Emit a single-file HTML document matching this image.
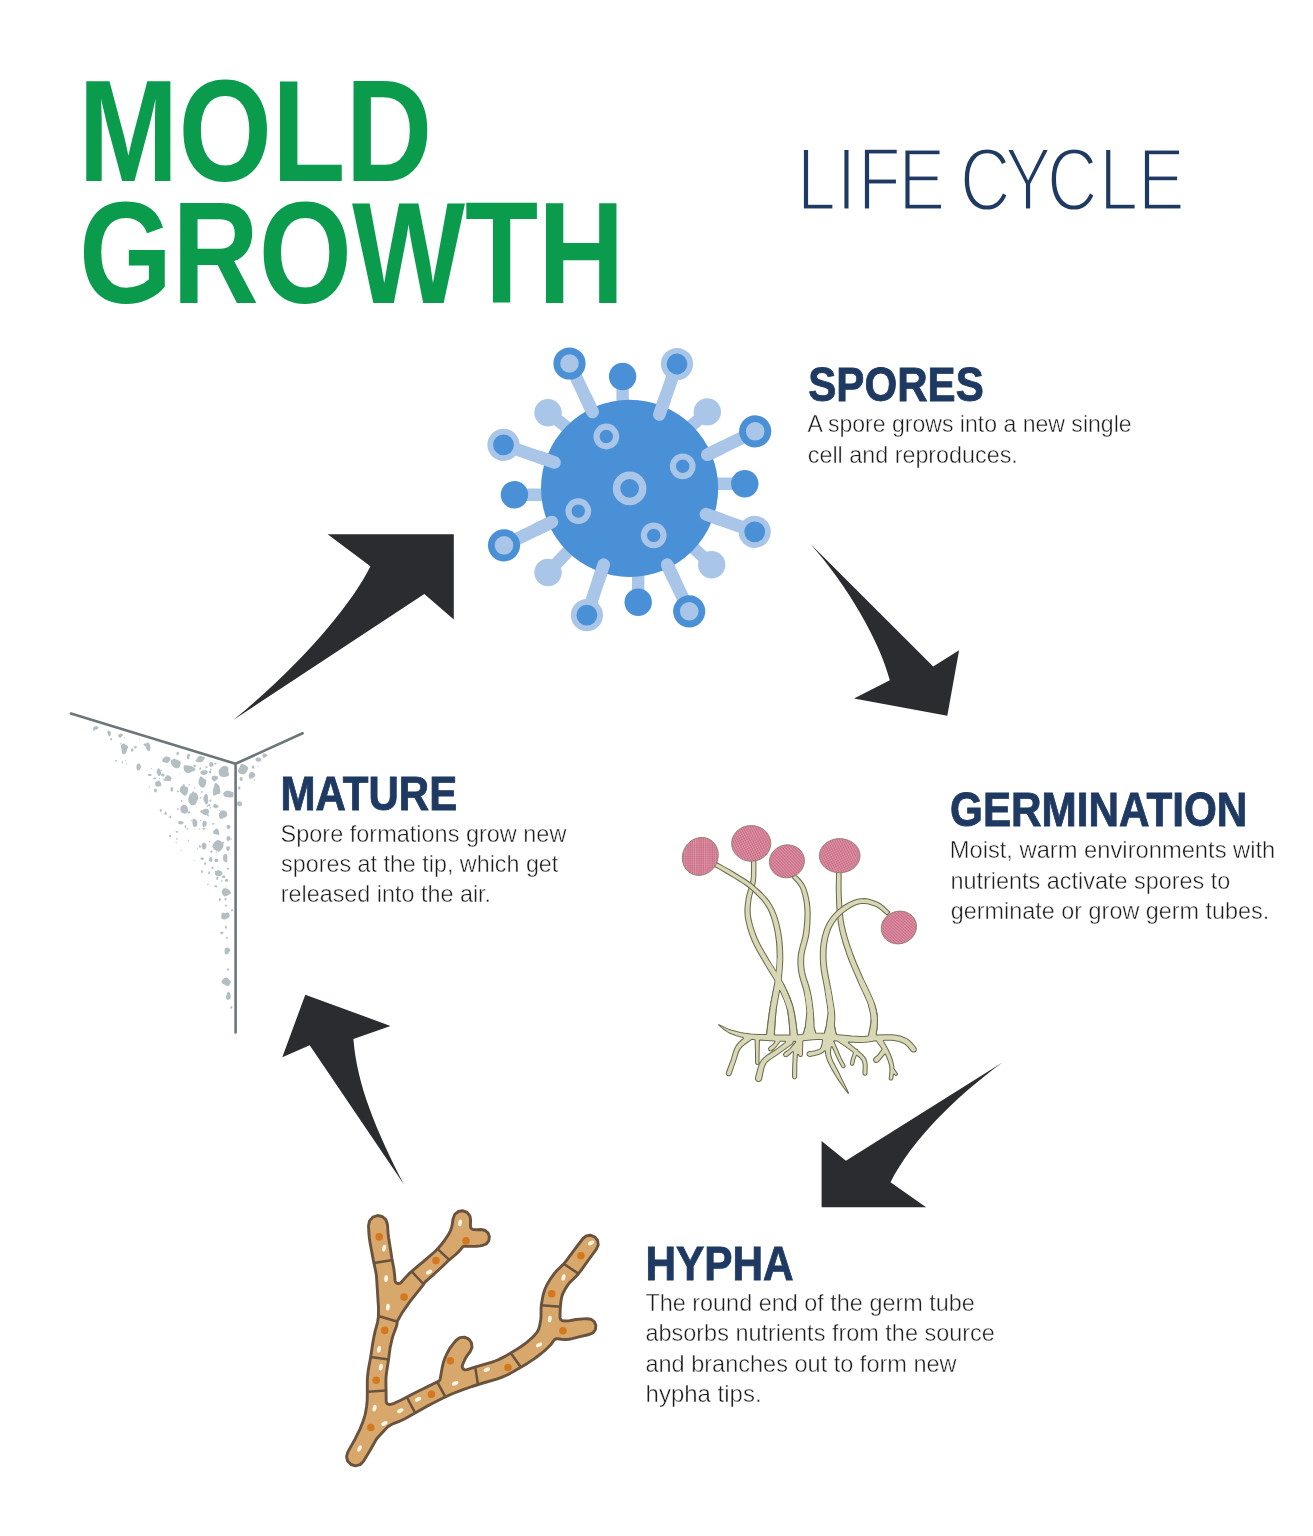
<!DOCTYPE html>
<html lang="en">
<head>
<meta charset="utf-8">
<title>Mold Growth Life Cycle</title>
<style>
html,body{margin:0;padding:0;background:#fff;}
body{width:1313px;height:1536px;overflow:hidden;}
svg{display:block;will-change:transform;}
svg text{font-family:"Liberation Sans",sans-serif;}
</style>
</head>
<body>
<svg width="1313" height="1536" viewBox="0 0 1313 1536">
<rect width="1313" height="1536" fill="#ffffff"/>
<g id="labels">
<text x="78.3" y="180.7" font-size="145" font-weight="bold" fill="#0a9b4c" textLength="354.0" lengthAdjust="spacingAndGlyphs">MOLD</text>
<text x="79.1" y="302.9" font-size="145" font-weight="bold" fill="#0a9b4c" textLength="545.5" lengthAdjust="spacingAndGlyphs">GROWTH</text>
<text transform="scale(0.79,1)" x="1009.0 1059.1 1086.0 1137.5 1176.4 1215.2 1271.9 1325.4 1391.6 1440.4" y="210.2" font-size="88.5" fill="#1f3a62" stroke="#fff" stroke-width="2.6" vector-effect="non-scaling-stroke">LIFE CYCLE</text>
<text x="808.3" y="400.95" font-size="49.0" font-weight="bold" fill="#1f3a62" textLength="175.4" lengthAdjust="spacingAndGlyphs" stroke="#1f3a62" stroke-width="0.9" stroke-linejoin="miter">SPORES</text>
<text x="950.1" y="826.35" font-size="49.0" font-weight="bold" fill="#1f3a62" textLength="297.2" lengthAdjust="spacingAndGlyphs" stroke="#1f3a62" stroke-width="0.9" stroke-linejoin="miter">GERMINATION</text>
<text x="645.4" y="1279.55" font-size="49.0" font-weight="bold" fill="#1f3a62" textLength="148.3" lengthAdjust="spacingAndGlyphs" stroke="#1f3a62" stroke-width="0.9" stroke-linejoin="miter">HYPHA</text>
<text x="280.6" y="810.45" font-size="49.0" font-weight="bold" fill="#1f3a62" textLength="176.6" lengthAdjust="spacingAndGlyphs" stroke="#1f3a62" stroke-width="0.9" stroke-linejoin="miter">MATURE</text>
<text x="807.4" y="432.2" font-size="23.6" font-weight="normal" fill="#1b1b1b" textLength="324.2" lengthAdjust="spacingAndGlyphs" stroke="#fff" stroke-width="0.45">A spore grows into a new single</text>
<text x="807.8" y="462.8" font-size="23.6" font-weight="normal" fill="#1b1b1b" textLength="210.0" lengthAdjust="spacingAndGlyphs" stroke="#fff" stroke-width="0.45">cell and reproduces.</text>
<text x="949.7" y="858.0" font-size="23.6" font-weight="normal" fill="#1b1b1b" textLength="325.6" lengthAdjust="spacingAndGlyphs" stroke="#fff" stroke-width="0.45">Moist, warm environments with</text>
<text x="950.4" y="888.6" font-size="23.6" font-weight="normal" fill="#1b1b1b" textLength="280.0" lengthAdjust="spacingAndGlyphs" stroke="#fff" stroke-width="0.45">nutrients activate spores to</text>
<text x="950.8" y="918.8" font-size="23.6" font-weight="normal" fill="#1b1b1b" textLength="318.5" lengthAdjust="spacingAndGlyphs" stroke="#fff" stroke-width="0.45">germinate or grow germ tubes.</text>
<text x="645.4" y="1310.5" font-size="23.6" font-weight="normal" fill="#1b1b1b" textLength="329.5" lengthAdjust="spacingAndGlyphs" stroke="#fff" stroke-width="0.45">The round end of the germ tube</text>
<text x="645.4" y="1341.2" font-size="23.6" font-weight="normal" fill="#1b1b1b" textLength="349.5" lengthAdjust="spacingAndGlyphs" stroke="#fff" stroke-width="0.45">absorbs nutrients from the source</text>
<text x="645.4" y="1371.8" font-size="23.6" font-weight="normal" fill="#1b1b1b" textLength="311.2" lengthAdjust="spacingAndGlyphs" stroke="#fff" stroke-width="0.45">and branches out to form new</text>
<text x="645.6" y="1402.3" font-size="23.6" font-weight="normal" fill="#1b1b1b" textLength="116.0" lengthAdjust="spacingAndGlyphs" stroke="#fff" stroke-width="0.45">hypha tips.</text>
<text x="280.6" y="842.0" font-size="23.6" font-weight="normal" fill="#1b1b1b" textLength="285.8" lengthAdjust="spacingAndGlyphs" stroke="#fff" stroke-width="0.45">Spore formations grow new</text>
<text x="281.1" y="872.2" font-size="23.6" font-weight="normal" fill="#1b1b1b" textLength="277.2" lengthAdjust="spacingAndGlyphs" stroke="#fff" stroke-width="0.45">spores at the tip, which get</text>
<text x="280.7" y="902.4" font-size="23.6" font-weight="normal" fill="#1b1b1b" textLength="210.4" lengthAdjust="spacingAndGlyphs" stroke="#fff" stroke-width="0.45">released into the air.</text>
</g>
<g id="spore">
<line x1="622.6" y1="376.5" x2="622.6" y2="405.5" stroke="#a9c5e8" stroke-width="12.4"/>
<line x1="707.3" y1="411.9" x2="687.9" y2="428.8" stroke="#a9c5e8" stroke-width="12.4"/>
<line x1="744.8" y1="483.7" x2="708.6" y2="483.7" stroke="#a9c5e8" stroke-width="12.4"/>
<line x1="711.7" y1="564.7" x2="690.5" y2="545.3" stroke="#a9c5e8" stroke-width="12.4"/>
<line x1="638.2" y1="602.3" x2="638.2" y2="568.6" stroke="#a9c5e8" stroke-width="12.4"/>
<line x1="548.0" y1="572.5" x2="568.8" y2="550.5" stroke="#a9c5e8" stroke-width="12.4"/>
<line x1="514.4" y1="494.8" x2="548.0" y2="494.8" stroke="#a9c5e8" stroke-width="12.4"/>
<line x1="548.0" y1="412.7" x2="568.8" y2="428.8" stroke="#a9c5e8" stroke-width="12.4"/>
<line x1="569.5" y1="363.5" x2="592.6" y2="411.9" stroke="#a9c5e8" stroke-width="12.7" stroke-linecap="round"/>
<line x1="677.0" y1="364.0" x2="659.4" y2="414.5" stroke="#a9c5e8" stroke-width="12.7" stroke-linecap="round"/>
<line x1="755.2" y1="431.3" x2="707.3" y2="454.7" stroke="#a9c5e8" stroke-width="12.7" stroke-linecap="round"/>
<line x1="754.7" y1="531.8" x2="706.0" y2="514.2" stroke="#a9c5e8" stroke-width="12.7" stroke-linecap="round"/>
<line x1="689.2" y1="611.3" x2="667.2" y2="564.7" stroke="#a9c5e8" stroke-width="12.7" stroke-linecap="round"/>
<line x1="586.9" y1="615.2" x2="603.7" y2="564.7" stroke="#a9c5e8" stroke-width="12.7" stroke-linecap="round"/>
<line x1="504.0" y1="545.3" x2="551.9" y2="522.0" stroke="#a9c5e8" stroke-width="12.7" stroke-linecap="round"/>
<line x1="503.5" y1="444.8" x2="554.5" y2="462.4" stroke="#a9c5e8" stroke-width="12.7" stroke-linecap="round"/>
<circle cx="629.6" cy="488.3" r="88.6" fill="#4a90d6"/>
<line x1="585.7" y1="397.4" x2="592.6" y2="411.9" stroke="#a9c5e8" stroke-width="12.7" stroke-linecap="round"/>
<line x1="664.7" y1="399.4" x2="659.4" y2="414.5" stroke="#a9c5e8" stroke-width="12.7" stroke-linecap="round"/>
<line x1="721.7" y1="447.7" x2="707.3" y2="454.7" stroke="#a9c5e8" stroke-width="12.7" stroke-linecap="round"/>
<line x1="720.6" y1="519.5" x2="706.0" y2="514.2" stroke="#a9c5e8" stroke-width="12.7" stroke-linecap="round"/>
<line x1="673.8" y1="578.7" x2="667.2" y2="564.7" stroke="#a9c5e8" stroke-width="12.7" stroke-linecap="round"/>
<line x1="598.7" y1="579.9" x2="603.7" y2="564.7" stroke="#a9c5e8" stroke-width="12.7" stroke-linecap="round"/>
<line x1="537.6" y1="529.0" x2="551.9" y2="522.0" stroke="#a9c5e8" stroke-width="12.7" stroke-linecap="round"/>
<line x1="539.2" y1="457.1" x2="554.5" y2="462.4" stroke="#a9c5e8" stroke-width="12.7" stroke-linecap="round"/>
<circle cx="622.6" cy="376.5" r="13.7" fill="#4a90d6"/>
<circle cx="707.3" cy="411.9" r="13.7" fill="#a9c5e8"/>
<circle cx="744.8" cy="483.7" r="13.7" fill="#4a90d6"/>
<circle cx="711.7" cy="564.7" r="13.7" fill="#a9c5e8"/>
<circle cx="638.2" cy="602.3" r="13.7" fill="#4a90d6"/>
<circle cx="548.0" cy="572.5" r="13.7" fill="#a9c5e8"/>
<circle cx="514.4" cy="494.8" r="13.7" fill="#4a90d6"/>
<circle cx="548.0" cy="412.7" r="13.7" fill="#a9c5e8"/>
<circle cx="569.5" cy="363.5" r="16.1" fill="#4a90d6"/>
<circle cx="569.5" cy="363.5" r="9.3" fill="#a9c5e8"/>
<circle cx="677.0" cy="364.0" r="16.1" fill="#a9c5e8"/>
<circle cx="677.0" cy="364.0" r="10.4" fill="#4a90d6"/>
<circle cx="755.2" cy="431.3" r="16.1" fill="#4a90d6"/>
<circle cx="755.2" cy="431.3" r="9.3" fill="#a9c5e8"/>
<circle cx="754.7" cy="531.8" r="16.1" fill="#a9c5e8"/>
<circle cx="754.7" cy="531.8" r="10.4" fill="#4a90d6"/>
<circle cx="689.2" cy="611.3" r="16.1" fill="#4a90d6"/>
<circle cx="689.2" cy="611.3" r="9.3" fill="#a9c5e8"/>
<circle cx="586.9" cy="615.2" r="16.1" fill="#a9c5e8"/>
<circle cx="586.9" cy="615.2" r="10.4" fill="#4a90d6"/>
<circle cx="504.0" cy="545.3" r="16.1" fill="#4a90d6"/>
<circle cx="504.0" cy="545.3" r="9.3" fill="#a9c5e8"/>
<circle cx="503.5" cy="444.8" r="16.1" fill="#a9c5e8"/>
<circle cx="503.5" cy="444.8" r="10.4" fill="#4a90d6"/>
<circle cx="606.3" cy="436.5" r="9.8" fill="none" stroke="#a9c5e8" stroke-width="6.2"/>
<circle cx="682.7" cy="466.3" r="9.8" fill="none" stroke="#a9c5e8" stroke-width="6.2"/>
<circle cx="629.6" cy="488.3" r="13.1" fill="none" stroke="#a9c5e8" stroke-width="7.5"/>
<circle cx="578.3" cy="511.1" r="9.8" fill="none" stroke="#a9c5e8" stroke-width="6.2"/>
<circle cx="653.7" cy="535.4" r="9.8" fill="none" stroke="#a9c5e8" stroke-width="6.2"/>
</g>
<path d="M809.8 543.2 L933.2 666.5 L959.1 650.2 L947.3 715.7 L854.0 698.5 L889.8 680.2 C880.0 642.0 848.0 586.0 809.8 543.2Z" fill="#2b2c30"/>
<path d="M233.3 719.9 L424.3 593.9 L453.8 619.4 L453.8 534.3 L327.6 534.3 L370.4 566.3 C352.0 604.0 302.0 664.0 233.3 719.9Z" fill="#2b2c30"/>
<path d="M1002.8 1062.2 L845.9 1160.8 L821.6 1141.0 L821.6 1207.3 L926.1 1207.3 L890.5 1182.2 C912.0 1140.0 955.0 1097.0 1002.8 1062.2Z" fill="#2b2c30"/>
<path d="M403.8 1184.2 L309.7 1045.2 L282.3 1057.2 L305.3 994.7 L390.5 1025.9 L353.4 1038.9 C357.0 1085.0 376.0 1130.0 403.8 1184.2Z" fill="#2b2c30"/>
<g id="mature">
<path d="M122.5 753.9C121.9 753.3 121.8 751.2 121.6 749.9C121.3 748.5 120.6 747.0 120.9 746.0C121.2 744.9 122.4 743.8 123.2 743.6C124.0 743.4 124.9 744.2 125.7 744.7C126.4 745.2 127.8 745.8 128.0 746.7C128.2 747.7 127.3 749.2 126.9 750.4C126.5 751.5 126.3 753.0 125.5 753.6C124.8 754.2 123.2 754.6 122.5 753.9ZM150.3 748.7C150.1 749.7 149.6 751.3 149.1 751.5C148.6 751.7 147.8 750.5 147.3 750.0C146.8 749.4 146.4 749.0 146.1 748.3C145.9 747.5 145.5 746.3 145.7 745.3C145.9 744.4 146.5 742.8 147.1 742.5C147.7 742.2 148.7 742.8 149.2 743.4C149.8 744.0 150.2 745.0 150.3 745.9C150.5 746.8 150.5 747.8 150.3 748.7ZM140.9 766.7C140.9 767.8 140.0 769.4 139.5 770.0C138.9 770.5 138.1 770.5 137.5 770.2C137.0 769.8 136.5 768.7 136.4 767.8C136.3 766.9 136.5 765.4 136.9 764.7C137.4 763.9 138.5 762.9 139.2 763.2C139.8 763.5 140.9 765.5 140.9 766.7ZM167.7 762.9C166.9 763.3 165.6 762.9 164.7 762.6C163.8 762.3 162.5 761.7 162.3 761.0C162.0 760.3 162.7 759.1 163.1 758.5C163.5 757.8 164.0 757.2 164.7 756.9C165.3 756.6 166.2 756.4 167.1 756.5C167.9 756.7 169.5 757.0 169.9 757.7C170.3 758.4 169.8 759.7 169.5 760.6C169.1 761.5 168.5 762.6 167.7 762.9ZM174.0 767.3C173.0 766.8 172.4 765.8 171.9 764.8C171.3 763.8 170.4 762.4 170.7 761.4C171.0 760.3 172.7 759.1 173.9 758.8C175.0 758.6 176.4 759.4 177.5 759.9C178.6 760.3 180.0 760.8 180.5 761.6C181.0 762.5 180.7 764.0 180.3 765.1C179.9 766.2 179.1 767.9 178.0 768.3C176.9 768.7 175.0 767.9 174.0 767.3ZM158.6 768.2C159.3 768.1 160.2 769.8 160.7 770.7C161.1 771.6 161.5 772.6 161.3 773.5C161.1 774.4 160.1 775.9 159.4 776.0C158.7 776.1 157.8 774.7 157.3 773.9C156.8 773.1 156.4 772.0 156.6 771.0C156.8 770.1 157.9 768.2 158.6 768.2ZM171.5 779.0C171.2 779.8 169.9 780.7 168.8 780.9C167.8 781.2 165.9 781.1 165.3 780.6C164.6 780.0 164.9 778.5 165.1 777.6C165.4 776.8 166.1 775.6 167.0 775.3C167.8 775.1 169.5 775.6 170.3 776.2C171.0 776.8 171.7 778.2 171.5 779.0ZM155.4 782.4C155.9 781.5 157.4 780.4 158.3 780.4C159.2 780.5 160.4 781.7 160.8 782.6C161.3 783.5 161.6 785.1 161.2 785.7C160.8 786.4 159.4 786.4 158.5 786.4C157.6 786.5 156.2 786.6 155.7 785.9C155.2 785.2 155.0 783.4 155.4 782.4ZM184.3 765.5C185.2 765.0 188.0 765.5 189.5 765.8C191.0 766.0 192.4 766.3 193.4 767.0C194.4 767.7 195.8 769.1 195.5 769.9C195.2 770.7 192.8 771.1 191.5 771.7C190.2 772.3 189.0 773.3 187.9 773.2C186.7 773.2 185.3 772.0 184.6 771.3C183.9 770.6 183.8 769.8 183.8 768.9C183.7 767.9 183.3 766.0 184.3 765.5ZM203.4 760.4C202.9 761.1 202.5 761.7 201.7 762.0C200.9 762.4 199.8 762.5 198.7 762.3C197.7 762.2 195.8 761.7 195.5 761.0C195.2 760.4 196.6 759.2 197.1 758.5C197.6 757.7 197.7 756.8 198.5 756.4C199.3 756.1 200.7 756.0 201.8 756.2C202.9 756.4 204.7 757.1 204.9 757.8C205.2 758.5 203.9 759.7 203.4 760.4ZM205.8 770.3C206.7 770.5 207.8 771.4 207.9 772.1C207.9 772.7 207.2 773.7 206.4 774.2C205.6 774.6 203.8 775.3 202.8 775.0C201.8 774.7 200.2 773.3 200.2 772.6C200.3 771.8 202.0 771.0 202.9 770.6C203.9 770.2 205.0 770.1 205.8 770.3ZM212.3 766.6C211.8 767.0 210.8 767.2 210.3 766.8C209.8 766.4 209.1 765.0 209.2 764.2C209.3 763.4 210.1 762.4 210.6 762.1C211.2 761.8 211.9 762.2 212.4 762.6C212.9 763.0 213.6 763.9 213.6 764.5C213.6 765.2 212.9 766.2 212.3 766.6ZM219.9 775.7C219.0 774.8 218.5 772.8 218.6 771.5C218.7 770.2 219.6 768.8 220.5 767.9C221.4 767.0 222.9 766.2 224.2 766.1C225.4 766.0 227.5 766.5 228.2 767.4C228.9 768.2 228.2 769.8 228.3 771.2C228.4 772.5 229.6 774.4 229.0 775.3C228.4 776.3 226.1 776.8 224.6 776.9C223.1 777.0 220.9 776.6 219.9 775.7ZM217.0 776.3C217.6 776.7 218.2 777.6 218.1 778.2C218.0 778.8 217.2 779.3 216.6 779.8C216.0 780.4 215.2 781.4 214.5 781.4C213.8 781.3 212.9 780.3 212.4 779.8C211.9 779.3 211.5 778.8 211.5 778.2C211.5 777.7 211.7 776.9 212.1 776.5C212.6 776.1 213.6 775.9 214.4 775.8C215.3 775.8 216.4 775.9 217.0 776.3ZM200.1 786.2C199.4 785.5 198.7 784.4 198.5 783.3C198.3 782.2 198.6 780.6 199.0 779.4C199.4 778.3 200.1 776.5 200.8 776.3C201.5 776.1 202.2 777.4 203.1 778.1C204.0 778.8 205.8 779.2 206.2 780.5C206.5 781.8 205.7 784.7 205.1 785.9C204.4 787.0 203.1 787.3 202.3 787.3C201.4 787.4 200.7 786.8 200.1 786.2ZM184.7 795.7C183.9 795.7 183.2 794.7 182.3 793.9C181.5 793.1 179.9 792.2 179.7 791.0C179.5 789.8 180.1 787.4 181.0 786.5C181.8 785.7 183.7 786.0 184.8 786.2C185.9 786.4 187.2 786.8 187.8 787.6C188.3 788.5 188.2 790.1 188.1 791.1C187.9 792.2 187.6 793.1 187.1 793.9C186.5 794.7 185.5 795.7 184.7 795.7ZM213.6 795.7C212.9 795.2 212.9 792.4 212.9 791.0C212.9 789.7 213.3 789.1 213.7 787.8C214.1 786.5 214.4 783.6 215.3 783.1C216.2 782.7 218.1 784.3 218.9 785.3C219.7 786.3 219.7 787.8 220.0 789.2C220.2 790.5 220.7 792.5 220.2 793.3C219.8 794.2 218.2 793.9 217.1 794.3C216.0 794.7 214.3 796.3 213.6 795.7ZM223.2 793.3C223.5 792.5 224.9 791.4 226.0 791.0C227.2 790.6 228.9 790.9 230.1 791.2C231.3 791.4 232.7 791.7 233.3 792.3C233.8 792.8 233.6 793.7 233.5 794.5C233.4 795.4 233.6 796.8 232.7 797.2C231.9 797.7 229.8 797.6 228.4 797.5C227.0 797.3 225.3 797.0 224.4 796.3C223.5 795.6 222.9 794.2 223.2 793.3ZM191.2 805.0C190.1 804.4 188.8 802.6 188.4 801.1C188.1 799.5 188.5 797.1 189.1 795.7C189.8 794.2 191.1 792.9 192.2 792.5C193.4 792.0 195.1 792.2 196.1 793.0C197.1 793.8 198.2 795.8 198.4 797.2C198.5 798.6 197.5 800.1 196.9 801.4C196.3 802.7 195.8 804.1 194.9 804.7C193.9 805.3 192.3 805.6 191.2 805.0ZM204.4 801.6C203.9 800.7 203.4 800.3 203.3 799.5C203.2 798.7 203.5 797.5 203.8 796.7C204.1 795.8 204.6 794.5 205.2 794.2C205.8 793.9 207.0 794.0 207.5 794.7C208.0 795.4 207.9 797.2 208.0 798.5C208.1 799.8 208.4 801.3 208.0 802.4C207.7 803.4 206.6 804.6 205.9 804.5C205.3 804.4 204.8 802.4 204.4 801.6ZM187.9 808.8C188.1 809.8 188.1 811.0 187.7 811.8C187.3 812.5 186.4 813.3 185.7 813.5C184.9 813.8 184.0 813.6 183.2 813.2C182.3 812.8 181.2 812.2 180.7 811.2C180.3 810.2 180.1 808.3 180.6 807.3C181.0 806.2 182.5 805.0 183.5 804.8C184.5 804.6 185.9 805.3 186.6 806.0C187.4 806.7 187.8 807.9 187.9 808.8ZM202.8 810.0C203.7 809.6 204.4 808.8 205.3 808.8C206.2 808.7 207.8 809.2 208.4 809.8C209.0 810.5 209.2 811.7 208.9 812.5C208.7 813.3 207.9 814.2 207.1 814.6C206.2 815.0 204.7 814.9 203.9 814.7C203.0 814.5 202.6 813.8 201.9 813.3C201.3 812.7 200.0 811.8 200.2 811.3C200.3 810.8 202.0 810.4 202.8 810.0ZM220.4 818.8C219.5 818.5 219.1 816.7 219.0 815.8C218.8 814.8 218.9 814.0 219.4 813.1C219.9 812.3 220.7 810.8 221.8 810.5C222.9 810.2 225.1 810.7 226.1 811.3C227.0 811.9 227.1 813.2 227.2 814.1C227.3 814.9 227.2 815.7 226.7 816.3C226.3 816.9 225.5 817.3 224.4 817.7C223.3 818.1 221.3 819.2 220.4 818.8ZM217.1 805.1C217.5 805.6 218.2 806.4 218.0 806.9C217.8 807.4 216.5 808.2 215.7 808.2C214.9 808.3 213.6 807.6 213.3 807.1C212.9 806.5 213.1 805.7 213.4 805.2C213.8 804.7 214.7 804.1 215.3 804.1C215.9 804.1 216.6 804.6 217.1 805.1ZM196.6 826.3C196.0 827.2 194.6 827.2 193.9 826.8C193.3 826.3 192.6 824.9 192.5 823.6C192.3 822.4 192.3 820.0 192.8 819.3C193.3 818.5 194.5 818.8 195.3 819.2C196.0 819.6 197.0 820.5 197.3 821.7C197.5 822.9 197.1 825.5 196.6 826.3ZM205.6 821.1C206.1 821.6 206.8 822.8 206.8 823.6C206.8 824.5 206.3 825.7 205.7 826.3C205.1 826.8 203.9 827.3 203.3 827.0C202.8 826.6 202.4 824.9 202.4 823.9C202.4 822.9 202.7 821.5 203.3 821.0C203.8 820.5 205.0 820.7 205.6 821.1ZM182.4 823.9C181.7 824.3 180.8 824.5 180.1 824.4C179.4 824.3 178.4 823.7 178.2 823.2C178.0 822.6 178.1 821.5 178.7 821.2C179.2 820.9 180.7 821.0 181.5 821.2C182.4 821.4 183.7 821.8 183.8 822.3C184.0 822.8 183.0 823.6 182.4 823.9ZM213.0 831.6C213.1 831.0 214.1 830.5 214.7 829.9C215.3 829.4 215.8 828.5 216.5 828.5C217.1 828.5 218.0 829.2 218.5 829.8C218.9 830.3 218.8 830.9 218.9 831.7C219.1 832.5 219.6 834.0 219.2 834.4C218.8 834.9 217.3 834.5 216.4 834.4C215.5 834.3 214.6 834.4 214.0 834.0C213.5 833.5 212.9 832.3 213.0 831.6ZM228.0 824.9C228.6 824.8 229.6 825.0 230.0 825.4C230.4 825.9 230.6 826.9 230.4 827.5C230.2 828.1 229.3 829.0 228.7 829.1C228.1 829.1 227.4 828.3 227.0 827.7C226.6 827.2 226.1 826.4 226.2 826.0C226.4 825.5 227.4 825.0 228.0 824.9ZM228.3 841.3C227.8 841.3 227.0 840.5 226.7 839.8C226.4 839.2 226.4 838.1 226.6 837.4C226.9 836.8 227.7 836.0 228.3 835.9C228.9 835.9 230.0 836.5 230.3 837.1C230.5 837.8 230.2 839.0 229.9 839.7C229.6 840.4 228.9 841.3 228.3 841.3ZM214.5 842.3C215.5 841.3 216.8 840.1 218.0 840.0C219.2 839.9 220.7 841.0 221.6 841.8C222.5 842.7 223.4 844.0 223.5 845.1C223.6 846.3 223.0 847.7 222.2 848.8C221.4 849.9 220.1 851.6 218.9 851.7C217.7 851.9 215.9 850.7 214.8 849.8C213.7 848.8 212.4 847.3 212.4 846.0C212.3 844.8 213.6 843.3 214.5 842.3ZM206.1 844.3C206.4 845.3 206.5 847.3 206.0 848.2C205.6 849.0 203.8 849.7 203.1 849.4C202.3 849.2 201.8 847.4 201.6 846.5C201.4 845.6 201.6 844.6 202.0 843.9C202.4 843.2 203.3 842.3 204.0 842.4C204.6 842.4 205.7 843.4 206.1 844.3ZM229.6 849.3C229.3 850.0 229.0 851.0 228.5 851.1C227.9 851.3 226.9 850.7 226.6 850.1C226.2 849.4 226.1 847.8 226.3 847.2C226.6 846.6 227.6 846.6 228.2 846.6C228.8 846.5 229.8 846.6 230.0 847.0C230.2 847.5 229.8 848.6 229.6 849.3ZM223.8 854.8C224.4 854.1 226.2 853.9 226.8 854.4C227.4 855.0 227.4 857.0 227.4 858.3C227.4 859.6 227.5 861.7 227.0 862.2C226.4 862.7 225.0 862.0 224.3 861.4C223.6 860.8 223.0 859.7 223.0 858.6C222.9 857.5 223.2 855.5 223.8 854.8ZM218.4 860.3C218.5 860.8 218.3 861.6 217.7 861.8C217.2 862.1 215.9 862.2 215.3 862.0C214.8 861.8 214.2 861.0 214.2 860.5C214.2 860.0 214.8 859.4 215.3 859.1C215.8 858.9 216.9 858.7 217.4 858.9C217.9 859.1 218.4 859.8 218.4 860.3ZM218.1 869.9C218.6 869.8 219.6 870.5 219.8 871.2C220.1 871.9 219.9 873.3 219.7 874.1C219.6 874.9 219.2 876.0 218.7 876.2C218.2 876.5 217.2 876.2 216.9 875.5C216.5 874.9 216.4 873.1 216.6 872.1C216.8 871.2 217.5 870.1 218.1 869.9ZM230.8 892.3C230.6 893.0 229.2 894.1 228.3 894.2C227.3 894.4 225.9 893.4 225.0 893.0C224.2 892.7 223.2 892.4 223.0 892.0C222.7 891.5 223.2 890.9 223.5 890.3C223.7 889.7 223.8 888.4 224.5 888.2C225.3 888.0 227.0 888.6 227.8 888.9C228.6 889.3 228.9 889.7 229.4 890.3C229.9 890.9 231.0 891.7 230.8 892.3ZM93.0 728.7C92.7 728.2 93.3 727.3 93.8 726.9C94.2 726.5 94.9 726.3 95.7 726.3C96.5 726.3 98.0 726.3 98.4 726.7C98.7 727.1 98.3 728.2 97.9 728.7C97.4 729.2 96.4 729.7 95.5 729.7C94.7 729.7 93.3 729.1 93.0 728.7ZM110.6 735.2C110.3 735.9 109.5 736.4 109.0 736.2C108.6 736.1 108.3 735.4 108.0 734.6C107.7 733.9 107.2 732.5 107.4 731.9C107.6 731.2 108.6 730.7 109.2 730.8C109.7 730.8 110.5 731.5 110.8 732.2C111.0 732.9 110.9 734.6 110.6 735.2ZM122.0 736.3C121.6 736.9 121.0 737.7 120.4 737.8C119.8 737.8 118.6 737.0 118.3 736.5C118.0 736.0 118.1 735.3 118.4 734.8C118.8 734.4 119.6 733.9 120.4 733.8C121.2 733.8 122.8 734.1 123.0 734.6C123.3 735.0 122.5 735.8 122.0 736.3ZM171.7 791.7C171.3 791.6 170.7 790.6 170.5 790.0C170.4 789.4 170.5 788.4 170.8 787.9C171.0 787.4 171.7 786.9 172.0 787.0C172.4 787.1 172.9 787.8 173.1 788.3C173.2 788.9 173.3 789.8 173.0 790.4C172.8 791.0 172.1 791.8 171.7 791.7ZM177.2 755.4C176.8 755.3 176.5 754.3 176.5 753.7C176.4 753.1 176.6 752.3 176.9 752.0C177.2 751.7 177.9 751.8 178.3 752.0C178.7 752.3 179.2 752.8 179.2 753.2C179.2 753.7 178.8 754.2 178.5 754.6C178.2 754.9 177.5 755.6 177.2 755.4ZM188.3 759.6C187.9 759.6 187.1 758.6 186.9 757.9C186.7 757.1 186.9 756.0 187.2 755.3C187.4 754.6 187.8 753.8 188.3 753.7C188.8 753.6 189.8 754.1 190.0 754.7C190.2 755.4 189.7 756.7 189.4 757.5C189.1 758.3 188.7 759.5 188.3 759.6ZM245.0 765.0C246.2 765.5 247.8 766.3 248.1 767.4C248.4 768.4 247.6 770.1 247.0 771.2C246.4 772.3 245.7 773.3 244.7 773.8C243.7 774.3 242.2 774.5 241.1 774.1C240.0 773.7 238.2 772.5 237.9 771.4C237.6 770.3 238.9 768.7 239.5 767.5C240.0 766.2 240.4 764.4 241.4 764.0C242.3 763.6 243.9 764.4 245.0 765.0ZM251.1 772.0C251.8 771.8 253.2 772.0 253.9 772.4C254.6 772.8 254.9 773.8 255.0 774.5C255.2 775.2 255.2 776.1 254.9 776.6C254.5 777.2 253.8 777.5 252.9 777.9C252.1 778.2 250.5 779.0 249.8 778.7C249.1 778.4 248.8 776.9 248.7 776.1C248.6 775.3 248.8 774.5 249.2 773.8C249.6 773.1 250.3 772.2 251.1 772.0ZM261.1 760.7C260.6 761.3 258.9 761.8 258.0 761.8C257.1 761.7 256.1 760.9 255.8 760.3C255.4 759.8 255.5 758.9 255.8 758.5C256.2 758.0 257.3 757.5 258.0 757.5C258.8 757.5 260.0 757.8 260.5 758.4C261.0 758.9 261.5 760.1 261.1 760.7ZM265.9 757.0C265.3 757.4 264.4 758.1 263.8 757.9C263.2 757.6 262.4 756.3 262.4 755.6C262.4 754.9 263.2 753.9 263.8 753.6C264.4 753.3 265.1 753.5 265.7 753.8C266.4 754.1 267.5 754.8 267.5 755.3C267.5 755.8 266.5 756.6 265.9 757.0ZM252.7 768.6C252.3 768.4 251.7 768.0 251.6 767.6C251.5 767.1 251.8 766.3 252.1 765.9C252.4 765.6 253.3 765.4 253.6 765.6C254.0 765.8 254.3 766.6 254.4 767.1C254.4 767.6 254.3 768.5 254.0 768.7C253.8 769.0 253.1 768.8 252.7 768.6ZM240.4 788.2C240.4 788.7 240.2 789.5 239.9 789.7C239.6 789.9 238.9 789.6 238.6 789.3C238.3 789.1 238.1 788.5 238.1 788.1C238.1 787.6 238.3 786.8 238.6 786.6C238.9 786.4 239.6 786.5 239.9 786.7C240.2 787.0 240.4 787.7 240.4 788.2ZM236.7 802.5C237.1 801.9 238.4 801.3 239.2 801.3C240.1 801.3 241.3 801.9 241.7 802.6C242.1 803.3 242.3 804.9 241.9 805.5C241.4 806.1 240.0 806.4 239.2 806.3C238.4 806.2 237.6 805.7 237.2 805.1C236.8 804.4 236.4 803.1 236.7 802.5ZM242.7 779.0C242.8 779.6 242.4 780.7 242.1 781.0C241.7 781.3 241.2 780.9 240.8 780.6C240.3 780.3 239.7 780.0 239.6 779.4C239.5 778.9 239.8 777.6 240.2 777.2C240.6 776.8 241.4 776.9 241.8 777.2C242.2 777.5 242.7 778.4 242.7 779.0ZM218.3 870.8C219.3 870.8 220.3 870.5 220.9 870.9C221.6 871.2 222.1 872.0 222.2 872.7C222.4 873.4 222.5 874.4 221.9 875.0C221.4 875.6 220.1 876.0 219.1 876.1C218.1 876.2 216.6 875.9 215.9 875.5C215.2 875.0 215.0 874.0 214.9 873.3C214.8 872.5 214.7 871.3 215.2 870.9C215.8 870.5 217.4 870.8 218.3 870.8ZM225.0 889.1C226.0 888.9 227.1 889.1 227.9 889.4C228.8 889.7 229.6 890.2 230.1 890.9C230.6 891.5 231.0 892.8 230.7 893.4C230.4 894.1 229.2 894.4 228.2 894.9C227.2 895.4 225.7 896.6 224.7 896.4C223.7 896.3 222.7 894.8 222.3 893.8C221.8 892.8 221.5 891.5 222.0 890.7C222.5 889.9 224.0 889.3 225.0 889.1ZM221.8 913.1C222.3 912.6 223.7 913.0 224.8 913.0C225.9 912.9 227.6 912.2 228.4 912.7C229.2 913.1 229.8 914.7 229.7 915.7C229.6 916.6 228.7 917.6 227.9 918.3C227.0 918.9 225.8 919.3 224.8 919.4C223.7 919.4 222.0 919.1 221.5 918.4C220.9 917.8 221.4 916.5 221.5 915.6C221.5 914.7 221.2 913.5 221.8 913.1ZM227.1 947.5C227.7 947.5 228.3 947.5 228.8 947.9C229.4 948.3 230.3 949.2 230.4 949.9C230.4 950.7 229.5 951.5 229.0 952.2C228.6 952.9 228.2 954.0 227.5 954.3C226.9 954.5 225.6 954.3 225.1 953.7C224.6 953.1 224.5 951.5 224.6 950.6C224.6 949.6 224.9 948.6 225.3 948.1C225.8 947.6 226.5 947.6 227.1 947.5ZM221.6 982.4C221.4 981.5 222.2 980.1 223.0 979.3C223.8 978.5 225.2 977.6 226.3 977.6C227.3 977.7 228.4 978.8 229.1 979.4C229.8 980.0 230.5 980.6 230.7 981.4C230.8 982.1 230.6 983.1 230.1 983.9C229.6 984.7 228.6 986.1 227.6 986.2C226.7 986.3 225.4 985.2 224.4 984.6C223.4 983.9 221.9 983.3 221.6 982.4ZM226.5 994.7C226.8 993.9 227.0 993.1 227.4 992.6C227.9 992.2 228.7 991.6 229.2 991.9C229.8 992.2 230.4 993.4 230.6 994.4C230.8 995.4 230.8 997.1 230.5 997.9C230.2 998.7 229.4 999.1 228.9 999.5C228.3 999.8 227.7 1000.2 227.2 999.8C226.7 999.5 226.1 998.3 226.0 997.5C225.9 996.6 226.3 995.5 226.5 994.7ZM208.0 873.3C208.0 873.0 208.4 872.5 208.6 872.1C208.8 871.8 209.2 871.2 209.5 871.3C209.7 871.4 210.2 872.2 210.2 872.6C210.2 873.0 209.8 873.5 209.6 873.8C209.3 874.0 209.1 874.4 208.8 874.3C208.6 874.2 208.1 873.7 208.0 873.3ZM228.5 867.8C228.8 868.0 229.1 868.3 229.1 868.6C229.1 868.8 228.9 869.1 228.6 869.3C228.3 869.5 227.5 869.8 227.2 869.7C226.9 869.6 226.7 869.0 226.7 868.7C226.7 868.4 226.8 868.0 227.1 867.9C227.4 867.7 228.1 867.7 228.5 867.8ZM227.5 881.8C227.2 882.0 226.5 881.6 226.0 881.5C225.5 881.3 224.8 881.0 224.8 880.7C224.7 880.3 225.1 879.6 225.5 879.3C225.9 879.0 226.6 878.7 227.0 878.8C227.5 879.0 227.9 879.7 228.0 880.2C228.1 880.7 227.9 881.5 227.5 881.8ZM215.5 887.3C215.1 887.3 214.6 886.9 214.4 886.7C214.2 886.5 214.1 886.2 214.3 885.9C214.4 885.7 214.7 885.2 215.1 885.2C215.5 885.1 216.3 885.4 216.5 885.6C216.7 885.8 216.7 886.3 216.6 886.6C216.4 886.9 215.8 887.3 215.5 887.3ZM220.5 900.8C220.3 901.1 219.6 901.5 219.4 901.4C219.1 901.2 219.1 900.4 219.0 900.0C219.0 899.5 218.8 898.9 219.0 898.6C219.2 898.3 220.1 898.1 220.4 898.3C220.7 898.5 220.8 899.2 220.8 899.6C220.8 900.1 220.8 900.5 220.5 900.8ZM227.3 905.3C227.4 905.5 227.1 906.0 226.9 906.2C226.7 906.4 226.3 906.6 226.0 906.6C225.7 906.6 225.3 906.4 225.1 906.1C224.9 905.9 224.7 905.3 224.9 905.1C225.1 904.9 225.7 904.8 226.1 904.8C226.5 904.8 227.1 905.0 227.3 905.3ZM231.2 910.9C231.0 910.6 231.0 910.2 231.0 909.9C231.1 909.7 231.3 909.4 231.6 909.2C231.8 909.1 232.5 908.8 232.7 909.0C232.9 909.2 232.9 909.9 232.8 910.3C232.8 910.7 232.6 911.3 232.3 911.5C232.1 911.6 231.5 911.1 231.2 910.9ZM225.7 928.7C225.4 928.7 225.1 928.3 225.0 927.9C224.8 927.6 224.7 927.2 224.9 926.8C225.0 926.4 225.4 925.8 225.7 925.8C226.0 925.8 226.6 926.2 226.7 926.6C226.9 927.0 226.9 927.8 226.7 928.1C226.5 928.5 226.0 928.7 225.7 928.7ZM220.5 931.9C220.9 931.7 221.9 931.7 222.5 931.8C223.0 931.9 223.8 932.4 223.8 932.7C223.9 933.0 223.3 933.4 222.9 933.6C222.4 933.9 221.8 934.3 221.4 934.2C221.0 934.2 220.5 933.6 220.3 933.2C220.2 932.8 220.2 932.1 220.5 931.9ZM226.9 937.0C227.2 937.0 227.5 937.2 227.7 937.5C227.9 937.8 228.3 938.4 228.2 938.6C228.1 938.8 227.3 938.8 226.9 938.8C226.5 938.7 226.0 938.6 225.9 938.4C225.7 938.2 225.8 937.6 226.0 937.4C226.1 937.2 226.6 936.9 226.9 937.0ZM227.4 970.7C227.1 970.6 226.9 970.0 226.8 969.6C226.7 969.3 226.7 968.8 227.0 968.6C227.2 968.5 227.9 968.5 228.2 968.6C228.6 968.7 229.1 968.9 229.2 969.2C229.3 969.5 229.0 969.9 228.7 970.1C228.4 970.4 227.7 970.7 227.4 970.7ZM231.6 1008.4C231.3 1008.6 230.9 1009.0 230.7 1008.8C230.4 1008.7 230.3 1007.8 230.3 1007.4C230.3 1007.0 230.6 1006.6 230.8 1006.4C231.1 1006.2 231.6 1005.8 231.8 1006.0C232.1 1006.1 232.5 1007.0 232.4 1007.4C232.4 1007.8 231.9 1008.2 231.6 1008.4ZM170.3 760.1C170.1 760.4 169.8 760.7 169.6 760.7C169.4 760.7 169.0 760.6 168.8 760.4C168.6 760.2 168.3 759.7 168.3 759.4C168.3 759.0 168.5 758.4 168.8 758.1C169.0 757.9 169.6 757.9 169.9 758.1C170.2 758.3 170.5 758.8 170.5 759.1C170.6 759.5 170.4 759.9 170.3 760.1ZM165.0 814.7C164.7 814.5 164.2 814.0 164.2 813.7C164.1 813.3 164.7 812.7 164.9 812.4C165.2 812.0 165.4 811.6 165.6 811.6C165.9 811.6 166.3 811.9 166.5 812.4C166.7 812.8 166.9 813.7 166.8 814.1C166.7 814.5 166.1 814.7 165.8 814.8C165.5 814.9 165.3 814.9 165.0 814.7ZM147.9 775.2C147.7 774.9 147.7 774.3 148.0 774.0C148.3 773.8 149.2 773.9 149.7 773.9C150.1 774.0 150.4 774.0 150.7 774.2C151.1 774.3 151.7 774.6 151.7 774.9C151.8 775.2 151.4 775.8 150.9 776.0C150.5 776.1 149.8 776.0 149.3 775.9C148.7 775.7 148.1 775.5 147.9 775.2ZM210.8 861.7C210.4 861.6 209.9 861.7 209.6 861.3C209.4 860.8 209.1 859.9 209.2 859.2C209.3 858.5 209.6 857.5 210.0 857.2C210.4 856.9 211.1 857.1 211.5 857.4C211.9 857.7 212.3 858.5 212.4 859.2C212.5 859.8 212.4 861.0 212.2 861.4C211.9 861.8 211.3 861.7 210.8 861.7ZM170.5 815.6C170.8 815.7 171.2 816.2 171.2 816.6C171.3 816.9 171.2 817.4 171.1 817.7C171.0 818.0 170.7 818.2 170.5 818.2C170.3 818.3 170.0 818.3 169.8 818.1C169.6 817.9 169.3 817.6 169.3 817.2C169.2 816.9 169.4 816.4 169.6 816.1C169.8 815.8 170.3 815.6 170.5 815.6ZM131.3 749.2C131.5 748.8 131.8 748.2 132.1 748.2C132.4 748.1 132.8 748.7 133.1 749.0C133.3 749.3 133.6 749.6 133.6 750.0C133.6 750.3 133.4 750.8 133.1 751.1C132.8 751.5 132.2 751.9 131.8 751.8C131.4 751.7 131.0 750.9 130.9 750.5C130.8 750.1 131.1 749.6 131.3 749.2ZM217.2 807.7C216.9 807.7 216.3 807.4 216.1 807.1C215.9 806.9 216.0 806.6 216.1 806.4C216.1 806.1 216.2 805.8 216.5 805.6C216.8 805.5 217.6 805.4 217.9 805.5C218.3 805.6 218.6 806.0 218.7 806.3C218.7 806.6 218.5 806.9 218.3 807.1C218.1 807.3 217.6 807.7 217.2 807.7ZM143.8 745.3C143.6 745.0 143.2 744.5 143.3 744.2C143.5 743.9 144.1 743.5 144.5 743.4C144.9 743.3 145.5 743.5 145.8 743.8C146.1 744.0 146.1 744.4 146.2 744.7C146.3 745.1 146.4 745.8 146.2 746.0C145.9 746.1 145.1 746.0 144.7 745.9C144.3 745.8 144.1 745.6 143.8 745.3ZM210.3 770.5C210.6 770.6 211.0 771.2 211.1 771.5C211.3 771.9 211.2 772.3 211.1 772.7C211.0 773.0 210.8 773.3 210.6 773.4C210.3 773.6 209.9 773.6 209.7 773.5C209.4 773.4 209.1 773.0 209.0 772.6C208.9 772.2 208.9 771.5 209.1 771.1C209.4 770.8 210.0 770.5 210.3 770.5ZM134.3 748.0C134.1 747.7 134.0 747.3 134.1 747.0C134.2 746.7 134.5 746.3 134.9 746.2C135.2 746.0 136.0 746.0 136.4 746.2C136.7 746.3 136.8 746.8 136.8 747.1C136.9 747.3 136.7 747.5 136.5 747.8C136.3 748.0 136.0 748.4 135.6 748.4C135.2 748.5 134.6 748.2 134.3 748.0ZM192.7 794.1C192.4 793.9 192.1 793.6 192.1 793.2C192.0 792.9 192.1 792.4 192.3 792.0C192.5 791.6 192.9 790.9 193.2 790.9C193.4 791.0 193.6 791.8 193.9 792.2C194.1 792.7 194.6 793.3 194.5 793.6C194.4 793.9 193.8 794.2 193.5 794.3C193.2 794.4 192.9 794.3 192.7 794.1ZM209.1 800.8C209.1 800.5 209.5 800.1 209.8 799.9C210.0 799.6 210.2 799.4 210.5 799.4C210.8 799.4 211.4 799.5 211.5 799.7C211.6 799.9 211.3 800.5 211.2 800.8C211.1 801.1 211.0 801.4 210.8 801.6C210.6 801.8 210.1 801.9 209.8 801.8C209.5 801.6 209.1 801.1 209.1 800.8ZM123.7 750.7C123.2 750.7 122.6 750.0 122.3 749.6C122.0 749.2 122.0 748.8 122.1 748.4C122.2 747.9 122.4 747.1 122.8 746.9C123.3 746.7 124.4 747.0 124.9 747.2C125.3 747.5 125.5 748.1 125.6 748.5C125.7 749.0 125.9 749.6 125.6 750.0C125.3 750.3 124.3 750.8 123.7 750.7ZM154.9 777.6C155.3 777.6 156.0 777.7 156.1 777.9C156.3 778.1 155.9 778.5 155.8 778.8C155.6 779.0 155.5 779.2 155.3 779.3C155.0 779.4 154.5 779.5 154.2 779.4C153.9 779.3 153.3 779.1 153.2 778.8C153.1 778.5 153.3 778.0 153.6 777.8C153.8 777.6 154.4 777.6 154.9 777.6ZM161.1 775.2C161.0 774.9 160.9 774.3 161.2 774.1C161.5 773.9 162.4 773.8 162.9 773.8C163.4 773.9 164.1 774.2 164.3 774.5C164.6 774.8 164.6 775.4 164.4 775.7C164.1 776.0 163.5 776.3 163.0 776.4C162.5 776.4 161.9 776.2 161.6 776.0C161.3 775.8 161.1 775.5 161.1 775.2ZM156.6 791.8C156.4 792.2 155.7 792.4 155.4 792.4C155.0 792.4 154.6 792.1 154.4 791.8C154.2 791.5 154.1 791.1 154.1 790.6C154.0 790.1 154.0 789.2 154.3 789.0C154.5 788.7 155.1 788.8 155.5 788.9C155.9 789.0 156.7 789.2 156.8 789.7C157.0 790.1 156.9 791.3 156.6 791.8ZM218.1 879.1C217.9 879.5 217.6 880.0 217.4 880.1C217.1 880.2 216.7 879.8 216.5 879.5C216.3 879.1 216.3 878.6 216.3 878.2C216.3 877.8 216.4 877.3 216.6 877.0C216.8 876.7 217.2 876.5 217.5 876.6C217.8 876.7 218.2 877.2 218.3 877.6C218.3 878.1 218.2 878.7 218.1 879.1ZM203.5 859.4C203.2 859.7 202.6 860.0 202.1 860.0C201.7 860.0 201.1 859.6 200.8 859.3C200.5 859.0 200.1 858.4 200.2 858.1C200.4 857.8 201.2 857.6 201.7 857.5C202.2 857.4 202.8 857.4 203.1 857.5C203.5 857.7 203.8 858.1 203.9 858.4C204.0 858.7 203.8 859.2 203.5 859.4ZM184.8 785.6C184.8 786.1 185.0 786.7 184.7 786.9C184.5 787.2 183.8 787.3 183.3 787.2C182.9 787.1 182.2 786.9 182.0 786.5C181.9 786.2 182.4 785.6 182.6 785.3C182.8 784.9 182.9 784.5 183.2 784.3C183.6 784.2 184.3 784.1 184.6 784.3C184.9 784.6 184.8 785.2 184.8 785.6ZM212.3 869.1C212.0 869.1 211.5 869.0 211.4 868.7C211.3 868.4 211.5 867.7 211.6 867.3C211.8 866.9 212.0 866.4 212.3 866.3C212.5 866.3 212.8 866.7 213.0 867.0C213.2 867.3 213.6 867.7 213.6 868.1C213.6 868.4 213.2 868.9 213.0 869.1C212.8 869.3 212.5 869.2 212.3 869.1ZM185.0 827.8C184.8 827.5 184.7 827.1 184.7 826.7C184.7 826.3 184.7 825.7 185.0 825.4C185.2 825.2 185.7 825.0 185.9 825.2C186.1 825.3 186.3 826.0 186.4 826.3C186.4 826.7 186.4 827.1 186.2 827.4C186.1 827.7 185.9 828.1 185.7 828.2C185.5 828.2 185.2 828.0 185.0 827.8ZM195.1 767.1C194.8 767.1 194.2 766.8 193.9 766.7C193.7 766.5 193.5 766.2 193.4 766.0C193.4 765.7 193.4 765.3 193.6 765.1C193.9 764.9 194.5 764.7 194.9 764.7C195.3 764.8 195.9 765.0 196.1 765.3C196.2 765.6 195.9 766.0 195.7 766.3C195.6 766.6 195.4 767.0 195.1 767.1ZM166.3 779.2C166.4 779.5 166.2 780.1 166.0 780.4C165.8 780.8 165.5 781.0 165.2 781.1C164.8 781.1 164.3 781.1 164.0 780.9C163.7 780.6 163.5 779.8 163.5 779.4C163.6 779.0 164.2 778.6 164.5 778.5C164.8 778.3 165.2 778.4 165.5 778.5C165.7 778.6 166.2 778.9 166.3 779.2ZM201.1 767.7C201.3 768.0 201.1 768.5 201.1 768.8C201.0 769.2 200.8 769.7 200.6 769.8C200.3 769.9 199.8 769.7 199.6 769.5C199.4 769.3 199.2 768.9 199.2 768.7C199.2 768.4 199.3 768.2 199.5 767.9C199.7 767.7 199.9 767.4 200.1 767.3C200.4 767.3 200.9 767.5 201.1 767.7ZM160.5 812.1C160.2 812.0 160.1 811.4 159.9 811.0C159.8 810.7 159.6 810.4 159.7 810.1C159.8 809.8 160.1 809.4 160.5 809.3C160.8 809.1 161.5 809.2 161.7 809.4C162.0 809.7 161.9 810.3 161.8 810.6C161.8 810.9 161.6 811.1 161.4 811.4C161.2 811.6 160.7 812.1 160.5 812.1ZM225.3 877.0C225.2 877.3 224.9 877.9 224.5 878.0C224.0 878.1 223.2 877.9 222.7 877.7C222.2 877.5 221.6 877.0 221.6 876.7C221.6 876.4 222.3 876.1 222.7 875.9C223.1 875.6 223.6 875.1 224.0 875.2C224.4 875.2 224.8 875.7 225.0 876.0C225.3 876.3 225.4 876.6 225.3 877.0ZM116.4 761.6C116.1 761.8 115.5 762.0 115.3 761.8C115.1 761.6 114.9 760.7 115.0 760.4C115.1 760.1 115.7 759.9 116.0 759.9C116.3 759.9 116.9 760.2 117.0 760.5C117.1 760.8 116.7 761.4 116.4 761.6ZM210.2 842.1C210.0 842.3 209.5 842.4 209.3 842.3C209.1 842.2 208.9 841.8 209.0 841.6C209.0 841.4 209.3 841.1 209.5 841.0C209.7 841.0 210.2 841.1 210.3 841.3C210.4 841.5 210.3 842.0 210.2 842.1ZM178.0 808.3C178.3 808.3 178.8 808.7 178.8 809.0C178.9 809.3 178.5 809.8 178.2 809.9C178.0 810.0 177.5 809.9 177.3 809.7C177.1 809.5 176.9 808.9 177.0 808.7C177.2 808.4 177.7 808.2 178.0 808.3ZM194.2 860.0C194.4 860.0 194.7 860.2 194.8 860.3C194.8 860.4 194.6 860.6 194.4 860.7C194.3 860.8 194.0 860.8 193.9 860.7C193.7 860.6 193.5 860.4 193.6 860.3C193.6 860.2 194.0 860.0 194.2 860.0ZM206.0 862.9C206.1 863.3 206.1 864.4 205.9 864.7C205.7 865.0 205.1 864.9 204.8 864.7C204.5 864.4 204.0 863.6 204.1 863.2C204.1 862.7 204.7 862.2 205.1 862.1C205.4 862.1 205.8 862.5 206.0 862.9ZM223.1 842.3C223.3 842.3 223.4 842.7 223.4 843.0C223.4 843.2 223.3 843.6 223.2 843.7C223.0 843.8 222.6 843.7 222.5 843.5C222.4 843.3 222.4 842.8 222.5 842.6C222.6 842.4 223.0 842.2 223.1 842.3ZM194.1 787.7C194.2 787.5 194.7 787.3 194.9 787.4C195.1 787.4 195.3 787.8 195.3 788.0C195.4 788.3 195.3 788.8 195.1 788.9C194.9 788.9 194.6 788.7 194.4 788.6C194.2 788.4 194.1 787.9 194.1 787.7ZM207.6 766.8C207.8 767.0 207.6 767.6 207.3 767.8C207.0 768.0 206.2 767.9 205.9 767.8C205.6 767.7 205.3 767.3 205.3 767.0C205.4 766.8 205.9 766.3 206.2 766.3C206.6 766.2 207.4 766.5 207.6 766.8ZM149.4 787.4C149.2 787.4 148.8 787.3 148.7 787.1C148.6 786.9 148.6 786.4 148.7 786.3C148.9 786.2 149.4 786.2 149.7 786.3C149.9 786.4 150.2 786.7 150.1 786.9C150.1 787.1 149.6 787.4 149.4 787.4ZM111.4 737.9C111.7 738.0 112.1 738.6 112.1 738.9C112.2 739.3 112.0 740.1 111.7 740.3C111.4 740.4 110.6 740.2 110.3 739.9C110.1 739.6 110.1 738.8 110.3 738.5C110.4 738.1 111.1 737.9 111.4 737.9ZM180.9 801.0C180.9 800.7 181.1 800.0 181.4 799.9C181.6 799.7 182.1 800.0 182.3 800.3C182.5 800.6 182.5 801.4 182.4 801.7C182.3 802.0 181.7 802.3 181.4 802.2C181.2 802.1 180.9 801.4 180.9 801.0ZM177.3 839.6C177.0 839.7 176.4 839.6 176.3 839.4C176.1 839.2 176.1 838.6 176.2 838.4C176.4 838.2 177.0 838.2 177.2 838.3C177.5 838.4 177.8 838.7 177.8 838.9C177.8 839.1 177.5 839.6 177.3 839.6ZM215.9 861.8C215.8 861.7 215.8 861.3 215.9 861.2C216.0 861.0 216.2 860.8 216.4 860.8C216.5 860.8 216.7 861.1 216.7 861.3C216.7 861.5 216.7 861.8 216.6 861.9C216.4 862.0 216.0 861.9 215.9 861.8ZM216.4 885.9C216.6 885.8 217.0 886.0 217.1 886.3C217.2 886.5 217.2 887.1 217.1 887.3C217.0 887.4 216.5 887.5 216.3 887.4C216.1 887.3 216.0 886.9 216.0 886.6C216.0 886.4 216.2 886.0 216.4 885.9ZM127.0 763.3C127.1 763.3 127.4 763.6 127.5 763.8C127.5 764.0 127.4 764.4 127.3 764.5C127.1 764.6 126.8 764.8 126.6 764.7C126.5 764.5 126.4 764.1 126.4 763.8C126.5 763.6 126.8 763.3 127.0 763.3ZM187.7 840.5C187.7 840.3 187.9 840.0 188.1 839.8C188.3 839.7 188.9 839.6 189.1 839.7C189.2 839.9 189.2 840.5 189.0 840.7C188.9 841.0 188.5 841.3 188.3 841.3C188.0 841.3 187.8 840.8 187.7 840.5ZM202.6 791.2C202.7 791.5 202.8 792.0 202.6 792.4C202.4 792.7 201.9 793.1 201.7 793.0C201.5 792.9 201.3 792.0 201.3 791.6C201.3 791.2 201.7 790.8 201.9 790.7C202.1 790.6 202.5 790.9 202.6 791.2ZM94.8 729.7C94.7 730.3 94.4 731.1 94.1 731.2C93.8 731.2 93.2 730.5 93.1 730.0C93.0 729.5 93.3 728.7 93.6 728.4C93.8 728.0 94.5 727.7 94.7 727.9C94.9 728.1 94.9 729.2 94.8 729.7ZM197.4 849.2C197.3 849.3 197.0 849.3 196.9 849.1C196.8 848.9 196.8 848.3 196.9 848.1C197.0 847.9 197.3 847.8 197.5 847.9C197.7 848.0 197.9 848.4 197.9 848.6C197.9 848.9 197.6 849.1 197.4 849.2ZM179.8 772.7C180.0 772.8 180.2 773.0 180.2 773.1C180.2 773.3 180.0 773.5 179.9 773.5C179.7 773.6 179.4 773.5 179.3 773.4C179.2 773.3 179.1 773.0 179.2 772.9C179.2 772.7 179.6 772.7 179.8 772.7ZM198.9 828.6C199.0 828.3 199.3 828.2 199.4 828.3C199.6 828.5 199.8 829.0 199.8 829.3C199.8 829.5 199.5 829.9 199.3 830.0C199.1 830.1 198.8 829.9 198.7 829.6C198.6 829.4 198.7 828.8 198.9 828.6ZM166.0 760.3C166.0 760.2 166.3 760.0 166.4 760.0C166.6 760.0 166.8 760.3 166.8 760.5C166.8 760.7 166.7 761.0 166.6 761.1C166.5 761.2 166.2 761.0 166.1 760.9C166.0 760.7 165.9 760.5 166.0 760.3ZM140.1 738.9C140.2 739.1 139.9 739.4 139.7 739.5C139.5 739.6 139.1 739.6 139.0 739.5C138.8 739.4 138.8 739.0 138.9 738.8C139.0 738.6 139.3 738.4 139.5 738.4C139.7 738.4 140.1 738.7 140.1 738.9ZM222.3 880.2C222.4 880.4 222.4 881.0 222.3 881.2C222.2 881.5 221.9 882.0 221.7 881.9C221.5 881.9 221.2 881.2 221.2 880.8C221.2 880.5 221.5 879.9 221.6 879.8C221.8 879.7 222.1 879.9 222.3 880.2ZM214.6 763.0C214.8 762.8 215.4 762.8 215.8 762.9C216.1 762.9 216.6 763.3 216.7 763.5C216.7 763.8 216.3 764.3 215.9 764.4C215.6 764.6 214.8 764.5 214.5 764.2C214.3 764.0 214.4 763.3 214.6 763.0ZM189.6 811.3C189.9 811.4 190.5 812.2 190.4 812.6C190.3 813.0 189.6 813.5 189.1 813.6C188.7 813.6 187.9 813.2 187.7 812.9C187.6 812.6 187.8 811.9 188.1 811.6C188.4 811.3 189.2 811.1 189.6 811.3ZM226.7 900.0C226.5 900.3 225.6 900.6 225.2 900.4C224.8 900.3 224.4 899.5 224.4 899.1C224.4 898.7 224.9 898.0 225.3 897.9C225.6 897.8 226.2 898.1 226.4 898.4C226.7 898.8 226.9 899.7 226.7 900.0ZM200.3 847.9C200.1 848.1 199.5 847.9 199.3 847.5C199.0 847.2 198.9 846.3 199.0 845.8C199.1 845.4 199.8 844.8 200.1 844.9C200.4 845.0 200.8 846.0 200.8 846.5C200.8 847.0 200.6 847.7 200.3 847.9ZM209.6 807.8C209.7 807.6 210.1 807.1 210.4 807.1C210.7 807.0 211.2 807.4 211.3 807.6C211.4 807.8 211.3 808.1 211.1 808.3C210.9 808.5 210.5 808.8 210.2 808.7C210.0 808.6 209.6 808.1 209.6 807.8ZM125.2 760.7C125.2 760.4 125.4 760.1 125.6 760.0C125.7 760.0 126.1 760.2 126.1 760.4C126.2 760.6 126.1 761.1 126.0 761.3C125.9 761.5 125.6 761.6 125.5 761.5C125.3 761.4 125.2 760.9 125.2 760.7ZM207.9 815.5C207.7 815.6 207.0 815.5 206.9 815.3C206.8 815.1 206.9 814.7 207.1 814.5C207.3 814.3 207.9 814.0 208.1 814.0C208.3 814.1 208.6 814.7 208.5 814.9C208.5 815.2 208.2 815.5 207.9 815.5ZM188.9 785.4C188.7 785.3 188.5 784.9 188.5 784.7C188.5 784.4 188.7 784.0 189.0 784.0C189.2 783.9 189.6 784.1 189.7 784.3C189.8 784.4 189.7 784.9 189.6 785.1C189.5 785.2 189.1 785.4 188.9 785.4ZM180.8 850.8C180.6 850.7 180.4 850.3 180.5 850.1C180.6 849.9 181.0 849.7 181.2 849.7C181.4 849.7 181.7 850.0 181.8 850.1C181.8 850.3 181.7 850.6 181.6 850.8C181.4 850.9 180.9 850.9 180.8 850.8ZM211.5 769.5C211.6 769.8 211.4 770.2 211.1 770.3C210.9 770.4 210.3 770.2 210.2 770.1C210.0 769.9 210.0 769.5 210.2 769.3C210.3 769.1 210.7 768.9 211.0 768.9C211.2 769.0 211.5 769.3 211.5 769.5ZM170.6 779.1C170.8 779.3 171.1 779.7 171.0 779.9C171.0 780.2 170.6 780.9 170.3 780.9C170.0 780.9 169.3 780.5 169.1 780.2C169.0 779.9 169.3 779.4 169.5 779.2C169.8 779.0 170.3 779.0 170.6 779.1ZM200.4 782.6C200.7 782.7 200.9 783.3 200.9 783.6C200.9 784.0 200.7 784.5 200.5 784.7C200.3 784.8 199.8 784.6 199.7 784.3C199.5 784.0 199.5 783.3 199.6 783.1C199.7 782.8 200.2 782.5 200.4 782.6ZM202.2 873.0C201.9 873.1 201.2 872.6 201.0 872.2C200.9 871.7 201.1 870.8 201.3 870.5C201.5 870.1 202.0 870.0 202.2 870.1C202.5 870.3 202.8 870.9 202.8 871.4C202.8 871.9 202.5 872.9 202.2 873.0ZM206.8 806.4C206.8 806.2 206.9 805.5 207.1 805.4C207.3 805.2 207.7 805.3 207.9 805.5C208.1 805.7 208.2 806.4 208.1 806.7C208.0 806.9 207.6 807.1 207.4 807.0C207.2 807.0 206.8 806.7 206.8 806.4ZM209.1 806.4C208.7 806.3 208.0 805.7 208.0 805.3C208.0 804.9 208.6 804.2 209.0 804.1C209.3 804.0 210.0 804.3 210.2 804.7C210.4 805.0 210.5 805.7 210.3 806.0C210.1 806.3 209.4 806.5 209.1 806.4ZM199.9 820.9C199.8 820.7 199.9 820.2 200.0 820.0C200.2 819.9 200.7 819.9 200.9 820.1C201.1 820.2 201.3 820.6 201.3 820.8C201.3 821.0 200.8 821.3 200.6 821.3C200.4 821.4 200.0 821.1 199.9 820.9ZM161.2 770.0C161.4 769.9 161.8 769.9 161.9 770.0C162.1 770.1 162.2 770.4 162.1 770.5C162.1 770.7 161.7 770.9 161.5 770.9C161.3 770.9 160.9 770.7 160.8 770.5C160.8 770.4 161.0 770.0 161.2 770.0ZM176.4 831.0C176.8 830.9 177.5 831.0 177.8 831.2C178.0 831.5 178.3 832.1 178.1 832.3C177.9 832.6 176.9 832.9 176.5 832.8C176.1 832.7 175.6 832.1 175.6 831.8C175.6 831.5 176.1 831.1 176.4 831.0ZM219.8 810.0C220.0 810.1 220.2 810.4 220.2 810.5C220.2 810.7 220.1 810.9 219.9 811.0C219.8 811.1 219.5 811.1 219.4 811.0C219.3 810.9 219.2 810.5 219.3 810.4C219.4 810.2 219.7 810.0 219.8 810.0ZM230.4 839.1C230.5 838.8 230.8 838.2 231.0 838.2C231.2 838.2 231.6 838.7 231.7 839.0C231.7 839.4 231.5 840.0 231.4 840.2C231.2 840.3 230.9 840.2 230.7 840.0C230.6 839.9 230.4 839.4 230.4 839.1ZM120.9 742.7C121.1 742.7 121.4 743.0 121.5 743.3C121.5 743.5 121.5 743.9 121.4 744.0C121.2 744.2 120.9 744.5 120.7 744.4C120.5 744.3 120.3 743.8 120.3 743.5C120.4 743.2 120.7 742.8 120.9 742.7ZM210.3 851.4C210.4 851.1 211.1 850.5 211.5 850.5C212.0 850.5 212.7 851.2 212.8 851.5C212.9 851.9 212.3 852.5 212.0 852.7C211.7 852.9 211.2 852.9 210.9 852.7C210.6 852.4 210.2 851.8 210.3 851.4ZM178.4 792.0C178.1 792.1 177.4 791.9 177.1 791.8C176.9 791.6 176.6 791.1 176.8 790.9C176.9 790.7 177.6 790.3 177.9 790.4C178.3 790.4 178.8 790.8 178.9 791.1C179.0 791.3 178.7 791.8 178.4 792.0ZM203.6 785.4C204.0 785.5 204.4 786.3 204.4 786.7C204.4 787.1 203.9 787.6 203.5 787.7C203.2 787.8 202.4 787.7 202.2 787.4C202.0 787.1 202.1 786.3 202.3 786.0C202.6 785.6 203.3 785.3 203.6 785.4ZM205.3 828.6C205.4 828.9 204.8 829.5 204.4 829.6C204.0 829.8 203.2 829.7 202.9 829.5C202.6 829.2 202.2 828.5 202.4 828.2C202.6 827.9 203.6 827.8 204.1 827.8C204.6 827.9 205.3 828.3 205.3 828.6ZM187.1 830.1C186.9 830.0 186.7 829.6 186.7 829.2C186.6 828.9 186.8 828.3 187.0 828.1C187.2 828.0 187.6 828.0 187.7 828.3C187.9 828.6 187.9 829.4 187.8 829.7C187.7 830.0 187.3 830.1 187.1 830.1ZM212.7 823.1C213.0 823.0 213.6 823.2 213.9 823.3C214.1 823.5 214.4 824.0 214.2 824.2C214.0 824.5 213.2 824.8 212.9 824.7C212.5 824.6 212.1 824.1 212.1 823.9C212.1 823.6 212.4 823.2 212.7 823.1ZM176.6 842.4C176.7 842.6 176.7 842.9 176.6 843.0C176.5 843.1 176.1 843.2 175.9 843.1C175.7 843.1 175.5 842.7 175.6 842.5C175.6 842.4 175.9 842.1 176.1 842.1C176.3 842.1 176.5 842.3 176.6 842.4ZM162.1 758.3C161.9 758.4 161.6 758.4 161.5 758.3C161.3 758.2 161.3 757.8 161.4 757.7C161.5 757.6 161.8 757.5 162.0 757.5C162.1 757.5 162.3 757.7 162.3 757.9C162.4 758.0 162.2 758.3 162.1 758.3ZM201.1 797.2C201.4 797.2 201.7 797.7 201.6 797.9C201.6 798.1 201.2 798.5 200.9 798.5C200.5 798.6 199.9 798.4 199.7 798.2C199.5 798.0 199.7 797.5 199.9 797.4C200.1 797.2 200.8 797.1 201.1 797.2ZM169.0 836.0C169.0 835.6 169.6 834.8 169.9 834.7C170.2 834.6 170.7 834.9 170.9 835.3C171.1 835.7 171.2 836.7 171.0 837.0C170.8 837.3 170.2 837.4 169.9 837.2C169.5 837.0 169.0 836.4 169.0 836.0ZM224.5 889.1C224.8 889.4 225.0 889.9 224.8 890.1C224.6 890.3 223.7 890.5 223.3 890.4C222.9 890.3 222.5 889.8 222.5 889.5C222.5 889.2 223.0 888.6 223.3 888.5C223.7 888.5 224.3 888.9 224.5 889.1ZM222.4 842.8C222.3 842.6 222.5 842.0 222.7 841.8C223.0 841.6 223.7 841.6 224.0 841.7C224.2 841.9 224.5 842.4 224.4 842.7C224.3 843.0 223.8 843.4 223.4 843.4C223.1 843.4 222.5 843.1 222.4 842.8ZM217.0 805.6C216.8 805.7 216.4 805.7 216.3 805.6C216.2 805.6 216.1 805.3 216.2 805.1C216.2 805.0 216.5 804.8 216.7 804.8C216.9 804.8 217.3 805.0 217.3 805.2C217.4 805.3 217.1 805.5 217.0 805.6ZM225.7 886.5C225.8 886.4 226.2 886.2 226.3 886.3C226.4 886.4 226.5 886.7 226.5 886.9C226.5 887.1 226.2 887.3 226.1 887.4C226.0 887.4 225.7 887.2 225.7 887.0C225.6 886.9 225.6 886.6 225.7 886.5ZM191.3 821.0C191.1 821.0 190.9 820.8 190.8 820.6C190.8 820.4 190.9 820.0 191.0 819.9C191.2 819.8 191.6 819.9 191.7 820.1C191.8 820.2 191.9 820.6 191.8 820.7C191.7 820.9 191.5 821.1 191.3 821.0ZM160.0 779.0C159.9 779.1 159.5 779.2 159.4 779.1C159.2 779.0 159.1 778.6 159.2 778.4C159.2 778.3 159.6 778.1 159.7 778.1C159.9 778.1 160.2 778.3 160.3 778.5C160.3 778.6 160.2 778.9 160.0 779.0ZM151.9 769.0C151.8 769.2 151.4 769.2 151.2 769.1C151.0 769.0 150.8 768.7 150.8 768.6C150.8 768.4 151.0 768.1 151.2 768.0C151.4 767.9 151.8 767.9 151.9 768.1C152.0 768.2 152.0 768.8 151.9 769.0ZM208.9 815.9C208.8 816.2 208.5 816.4 208.2 816.5C208.0 816.5 207.5 816.3 207.4 816.1C207.3 815.8 207.5 815.2 207.7 815.1C207.9 814.9 208.4 815.0 208.5 815.1C208.7 815.2 208.9 815.7 208.9 815.9ZM216.5 852.7C216.3 852.7 215.8 852.6 215.7 852.4C215.6 852.3 215.6 851.9 215.8 851.7C215.9 851.6 216.3 851.6 216.5 851.6C216.6 851.7 216.8 851.9 216.8 852.1C216.8 852.3 216.7 852.6 216.5 852.7ZM193.6 794.6C193.6 794.4 193.8 794.1 193.9 794.1C194.1 794.0 194.5 794.2 194.5 794.3C194.6 794.5 194.4 794.8 194.3 795.0C194.2 795.1 194.0 795.2 193.9 795.1C193.7 795.1 193.6 794.8 193.6 794.6ZM185.3 766.4C185.2 766.6 184.8 766.9 184.6 766.9C184.3 766.9 183.9 766.7 183.8 766.4C183.7 766.2 183.7 765.8 183.9 765.6C184.1 765.5 184.7 765.4 185.0 765.6C185.2 765.7 185.3 766.1 185.3 766.4ZM207.1 884.2C207.2 884.0 207.7 883.8 208.0 883.9C208.3 883.9 208.9 884.1 208.9 884.3C209.0 884.5 208.6 884.9 208.3 885.0C208.0 885.1 207.5 885.0 207.3 884.8C207.1 884.7 207.0 884.3 207.1 884.2ZM125.1 738.2C125.0 738.4 124.6 738.4 124.4 738.3C124.3 738.2 124.1 738.0 124.1 737.8C124.1 737.6 124.3 737.1 124.4 737.1C124.6 737.0 124.9 737.2 125.0 737.4C125.1 737.6 125.1 738.1 125.1 738.2ZM212.9 849.8C212.9 849.6 213.1 849.4 213.2 849.3C213.4 849.2 213.6 849.2 213.8 849.3C213.9 849.4 214.1 849.7 214.0 849.9C214.0 850.0 213.6 850.1 213.4 850.1C213.2 850.1 212.9 849.9 212.9 849.8ZM122.3 761.3C122.5 761.3 123.0 761.7 123.0 762.0C123.1 762.3 122.9 763.0 122.7 763.1C122.5 763.3 122.1 763.4 121.9 763.2C121.7 763.0 121.5 762.4 121.6 762.1C121.6 761.8 122.0 761.3 122.3 761.3ZM258.0 766.3C258.1 766.3 258.3 766.5 258.3 766.7C258.4 766.8 258.3 767.1 258.1 767.2C258.0 767.3 257.6 767.3 257.5 767.2C257.4 767.1 257.4 766.6 257.5 766.5C257.5 766.3 257.8 766.2 258.0 766.3ZM254.6 780.3C254.5 780.5 254.2 780.6 254.0 780.5C253.8 780.4 253.6 780.0 253.6 779.7C253.6 779.5 253.9 779.1 254.1 779.1C254.2 779.0 254.6 779.2 254.7 779.4C254.8 779.6 254.7 780.1 254.6 780.3Z" fill="#b3bfc3"/>
<path d="M70.9 713.5 L235.6 763.8 L302.6 733.3 M235.6 763.8 L235.6 1032.5" fill="none" stroke="#6c777c" stroke-width="2.6" stroke-linecap="round" stroke-linejoin="round"/>
</g>
<defs><pattern id="hatch" width="2.2" height="2.2" patternUnits="userSpaceOnUse" patternTransform="rotate(-28)"><rect width="2.2" height="2.2" fill="#d27a91"/><rect width="2.2" height="1" fill="#c46681"/><rect width="1" height="2.2" fill="#e3a0b1" opacity="0.7"/></pattern></defs>
<g id="germination" stroke-linejoin="round">
<path d="M751.5 858.8L751.5 861.8L751.5 866.1L751.5 871.0L751.4 875.9L751.0 880.2L750.3 883.9L749.3 887.4L748.1 891.0L747.0 894.6L746.2 898.4L745.7 902.1L745.2 905.7L744.9 909.4L745.0 913.3L745.3 917.5L746.2 921.9L747.3 926.6L748.7 931.4L750.4 936.3L752.3 941.0L754.5 945.7L757.0 950.4L759.6 955.0L762.3 959.6L765.0 964.2L767.7 968.8L770.6 973.4L773.5 978.0L776.1 982.5L778.5 987.0L780.7 991.4L782.6 995.7L784.4 999.9L786.0 1004.4L787.3 1009.2L788.3 1014.9L789.1 1021.5L789.7 1028.2L790.1 1034.0L790.4 1038.1L797.8 1037.3L797.3 1033.3L796.5 1027.5L795.6 1020.7L794.5 1013.9L793.2 1007.8L791.7 1002.6L789.9 997.8L788.0 993.3L785.9 988.8L783.7 984.3L781.1 979.6L778.3 975.0L775.4 970.4L772.5 965.9L769.8 961.4L767.1 956.8L764.4 952.2L761.8 947.7L759.4 943.3L757.3 938.8L755.5 934.3L753.9 929.7L752.5 925.2L751.4 920.8L750.6 916.7L750.2 913.0L750.1 909.5L750.3 906.1L750.6 902.7L751.1 899.2L751.7 895.8L752.7 892.3L753.7 888.7L754.7 884.9L755.5 880.8L755.8 876.2L755.9 871.1L755.9 866.1L755.9 861.8L755.8 858.8Z" fill="#d8d7b6" stroke="#6b6c4e" stroke-width="1.05"/>
<path d="M712.6 865.3L715.6 867.0L719.9 869.4L724.8 872.2L729.8 875.2L734.2 877.9L738.1 880.3L741.8 882.6L745.4 885.0L748.8 887.5L752.1 890.3L755.5 893.5L758.9 896.8L762.1 900.4L765.0 904.2L767.5 908.1L769.5 912.2L771.2 916.7L772.7 921.4L773.9 926.3L775.0 931.3L775.8 936.5L776.5 941.9L776.9 947.4L777.1 952.9L777.2 958.2L777.0 963.3L776.6 968.2L776.1 973.1L775.5 978.0L774.8 982.9L774.0 987.8L773.0 992.6L772.0 997.5L770.9 1002.7L770.0 1008.1L769.1 1014.2L768.2 1020.9L767.4 1027.6L766.7 1033.3L766.1 1037.4L774.1 1038.1L774.3 1034.0L774.7 1028.3L775.1 1021.6L775.6 1014.9L776.2 1008.9L777.0 1003.7L777.9 998.7L778.9 993.8L779.8 988.8L780.5 983.8L781.2 978.7L781.8 973.7L782.3 968.7L782.6 963.5L782.8 958.2L782.7 952.7L782.4 947.1L782.0 941.4L781.3 935.7L780.4 930.3L779.2 925.1L777.8 919.9L776.2 914.9L774.2 910.1L771.9 905.5L769.1 901.2L765.8 897.2L762.4 893.5L758.8 890.0L755.2 886.8L751.7 883.8L748.0 881.2L744.3 878.8L740.5 876.5L736.6 874.0L732.1 871.3L727.0 868.4L722.1 865.6L717.8 863.2L714.8 861.5Z" fill="#d8d7b6" stroke="#6b6c4e" stroke-width="1.05"/>
<path d="M792.1 877.4L793.4 878.9L795.3 880.8L797.3 883.1L799.2 885.6L800.7 888.4L801.8 891.6L802.9 895.3L803.7 899.4L804.4 903.7L804.8 908.1L805.0 912.8L804.9 917.8L804.6 922.9L804.1 927.9L803.5 932.7L802.7 937.1L801.6 941.5L800.3 945.9L799.2 950.2L798.4 954.4L798.0 958.3L797.9 961.8L798.0 965.2L798.3 968.7L798.8 972.4L799.7 976.5L800.9 980.8L802.2 985.0L803.5 989.1L804.4 993.1L805.2 997.2L805.8 1001.5L806.3 1005.7L806.7 1009.7L806.9 1013.2L806.8 1016.3L806.5 1019.0L806.1 1021.5L805.7 1024.1L805.4 1026.6L804.6 1029.3L803.9 1031.9L803.1 1034.3L802.4 1036.3L801.7 1037.8L817.7 1037.7L816.9 1036.2L816.1 1034.2L815.4 1031.9L814.6 1029.3L813.9 1026.9L813.8 1024.6L813.8 1022.1L813.8 1019.3L813.6 1016.3L813.3 1012.9L813.0 1009.1L812.5 1005.0L811.9 1000.6L811.2 996.2L810.3 991.9L809.2 987.5L807.9 983.2L806.5 979.0L805.3 975.1L804.5 971.4L804.0 968.0L803.7 964.9L803.6 961.8L803.7 958.6L804.0 955.2L804.6 951.4L805.7 947.3L806.9 942.9L808.1 938.3L809.0 933.5L809.5 928.5L809.9 923.2L810.1 917.9L810.2 912.7L809.9 907.8L809.4 903.1L808.6 898.5L807.6 894.1L806.4 890.1L804.9 886.4L803.1 883.1L800.8 880.2L798.5 877.7L796.5 875.8L795.2 874.5Z" fill="#d8d7b6" stroke="#6b6c4e" stroke-width="1.05"/>
<path d="M836.7 869.5L836.6 873.5L836.4 879.2L836.3 885.8L836.3 892.6L836.5 898.9L836.7 904.6L837.0 910.1L837.5 915.6L838.1 921.2L839.0 926.7L840.2 932.3L841.7 937.9L843.3 943.5L845.1 949.0L847.0 954.6L849.1 960.2L851.4 965.9L853.8 971.6L856.2 977.0L858.4 982.2L860.7 987.3L863.0 992.1L865.1 996.7L867.0 1001.0L868.5 1004.9L869.6 1008.4L870.4 1011.3L870.9 1014.0L871.1 1016.8L871.2 1019.9L870.8 1023.6L870.1 1027.9L869.2 1032.3L868.3 1036.2L867.6 1038.9L875.5 1040.2L875.8 1037.5L876.3 1033.6L876.9 1029.0L877.4 1024.2L877.4 1020.0L877.3 1016.4L876.9 1013.1L876.3 1010.0L875.4 1006.6L874.2 1002.9L872.5 998.7L870.5 994.2L868.3 989.6L866.0 984.8L863.7 979.9L861.4 974.7L859.0 969.3L856.6 963.7L854.4 958.2L852.3 952.7L850.4 947.3L848.6 941.9L846.9 936.5L845.5 931.1L844.2 925.7L843.3 920.4L842.6 915.1L842.1 909.7L841.7 904.3L841.4 898.7L841.1 892.6L841.1 885.8L841.1 879.3L841.1 873.6L841.2 869.6Z" fill="#d8d7b6" stroke="#6b6c4e" stroke-width="1.05"/>
<path d="M889.9 912.1L888.4 910.8L886.4 908.8L883.9 906.5L881.1 904.3L878.1 902.5L875.0 901.2L871.6 900.0L868.1 899.1L864.5 898.6L860.8 898.7L857.2 899.3L853.6 900.4L850.2 901.9L846.8 903.7L843.6 905.8L840.4 908.1L837.3 910.7L834.3 913.7L831.5 916.8L829.1 920.2L827.0 923.7L825.3 927.4L823.9 931.2L822.7 935.2L821.8 939.4L821.0 943.8L820.5 948.3L820.3 953.0L820.3 957.9L820.5 963.0L821.0 968.4L821.9 974.2L823.0 979.9L824.1 985.5L825.0 990.7L825.8 995.7L826.6 1000.7L827.3 1005.3L827.8 1009.6L828.2 1013.3L828.1 1016.2L827.8 1018.5L827.3 1020.6L826.8 1022.9L826.5 1025.4L825.7 1028.1L825.1 1031.0L824.4 1033.7L823.8 1036.0L823.2 1037.6L837.3 1037.8L836.7 1036.2L836.1 1033.8L835.5 1031.2L835.0 1028.4L834.4 1025.9L834.5 1023.7L834.6 1021.6L834.8 1019.2L834.8 1016.3L834.6 1012.8L834.1 1008.8L833.4 1004.4L832.6 999.7L831.8 994.7L830.9 989.7L829.9 984.4L828.8 978.8L827.7 973.1L826.8 967.7L826.3 962.6L826.0 957.8L826.0 953.2L826.2 948.7L826.6 944.5L827.3 940.5L828.1 936.6L829.2 932.9L830.4 929.5L831.9 926.2L833.7 923.2L835.8 920.2L838.2 917.4L840.9 914.7L843.7 912.3L846.6 910.1L849.5 908.2L852.5 906.5L855.5 905.1L858.5 904.1L861.3 903.5L864.2 903.4L867.3 903.8L870.3 904.5L873.3 905.5L876.1 906.5L878.6 908.0L881.1 909.9L883.5 912.0L885.6 913.9L887.1 915.2Z" fill="#d8d7b6" stroke="#6b6c4e" stroke-width="1.05"/>
<path d="M718.6 1024.9L721.7 1027.7L724.1 1029.5L726.7 1031.4L729.4 1033L732.5 1034.3L735.7 1035.5L739.1 1036.6L743 1037.6L743.3 1037.8L743.5 1038.1L743.4 1038.4L743.3 1038.6L741.5 1040L738.7 1042.6L736.5 1045.4L734.8 1048.3L733.7 1051.2L731.3 1059.5L726.4 1072.5L726.3 1073.8L726.9 1075L727.9 1075.7L729.2 1075.8L730.4 1075.2L731.1 1074.1L736.6 1058.2L738.2 1052.8L739.2 1050.5L740.5 1048.4L742.4 1046.3L745 1044.2L751.7 1039.4L752.1 1039.3L754.8 1039.7L755 1039.9L755.1 1040.2L755.5 1051.9L755.6 1062.7L755.8 1063.6L756.4 1064.2L757.2 1064.5L758.1 1064.3L758.7 1063.9L759.1 1064.1L759.2 1064.4L758 1068.1L755.5 1077.6L755.5 1079.3L756.4 1080.7L757.9 1081.5L759.5 1081.4L760.9 1080.5L761.7 1079.1L763.5 1069.7L764.6 1066.2L765.8 1063.5L767.6 1061.5L769.9 1059.6L775.6 1055.9L778.5 1053.9L792.1 1044.1L793 1042.9L793.2 1041.8L793.4 1041.4L795.1 1041.3L795.6 1041.5L795.6 1042.1L792.6 1045.7L789.8 1048.8L787.4 1050.7L784.4 1052.8L783.7 1053.7L783.6 1054.8L784 1055.9L784.8 1056.6L786 1056.7L787.1 1056.3L790 1054L792.6 1051.7L793.1 1051.7L793.4 1051.9L792.7 1066.5L792.5 1076.6L792.8 1077.7L793.6 1078.5L794.6 1078.8L795.6 1078.5L796.4 1077.7L796.7 1076.7L796.8 1063.7L797.4 1054.7L797.7 1054.2L798.2 1054.2L798.5 1054.6L798.8 1055.6L799.5 1056.3L800.4 1056.6L801.5 1056.3L802.2 1055.5L802.5 1054.5L802.6 1047.7L802.8 1041.2L802.9 1040.9L803.3 1040.7L813 1039.7L817.3 1039.5L822.1 1039.6L822.5 1039.9L822.6 1040.1L822.3 1042.4L821.3 1046.8L820.6 1048.3L820 1048.9L819 1049.5L815 1050.8L812.4 1051.2L809.3 1051.4L808.1 1051.9L807.2 1053L807.1 1054.2L807.5 1055.4L808.6 1056.2L809.8 1056.4L814.7 1055.5L819.2 1054.2L821 1053.5L822.8 1052.5L824.6 1050.8L824.9 1050.7L825.2 1050.9L825.4 1051.2L825.9 1055.7L827.2 1059.7L829 1063.7L831.1 1067.7L835.5 1075.5L838.1 1079.4L843.8 1087.7L848.2 1093.4L848.6 1093.1L847.4 1090.4L841.1 1077.7L839.2 1073.5L833.1 1061.8L831.6 1058.1L830.7 1054.8L830.5 1051.6L830.9 1048.2L831.2 1047L831.4 1046.8L831.8 1046.7L832.2 1047L836.4 1056.4L838.9 1061.5L841.8 1066.8L842.5 1067.5L843.4 1067.8L844.3 1067.5L844.9 1066.9L845.2 1066L844.9 1065.1L842.9 1061.7L840.9 1057.8L834.1 1041.9L833.8 1041.5L833.7 1041.3L833.9 1040.9L834.3 1040.8L837.4 1041.1L846.3 1047.1L853.4 1052.3L853.4 1052.9L851.6 1058.1L850.4 1063.2L850.5 1064.2L851 1064.9L851.7 1065.3L852.6 1065.2L853.4 1064.7L853.8 1063.9L854.9 1059.1L856.3 1055.6L856.6 1055.3L857 1055.3L857.6 1055.8L859.6 1057.5L861.2 1059.3L862.3 1061.1L863 1063.3L863.2 1066L863 1073.3L863.2 1074.3L863.9 1075L865 1075.3L866 1075.1L866.7 1074.4L867 1073.3L867.2 1065.8L866.9 1062.5L866 1059.4L864.4 1056.9L862.5 1054.6L858.1 1050.8L857.6 1049.8L856.8 1049.3L856 1049.1L848.6 1042.9L848.4 1042.6L848.5 1042.3L848.7 1042L849 1041.9L856.3 1042.4L860.8 1042.5L864.8 1042.3L868.3 1041.9L874.6 1040.9L876 1040.8L876.5 1040.9L876.7 1041.5L882 1048.8L882.1 1049.2L878.2 1054.6L876.5 1056.2L874.3 1058L873.6 1059.2L873.6 1060.6L874.3 1061.8L875.4 1062.5L876.9 1062.5L878.1 1061.9L880 1059.8L884.7 1054.1L885 1054L885.4 1054.2L886.8 1057.1L887.8 1059.7L888.7 1062.3L889.4 1064.9L889.8 1067.2L890 1069.6L889.9 1072.1L889.2 1078.2L889.3 1079.1L889.8 1079.8L890.7 1080.1L891.7 1080L892.4 1079.4L892.8 1078.6L893.4 1074.4L893.6 1074.1L894.2 1074L895.4 1075.3L896.1 1075.4L896.8 1075.1L897.3 1074.6L897.4 1073.9L897.1 1073.2L893.9 1068.6L893.8 1066.7L893.3 1064L892.7 1061.2L891.8 1058.3L890.8 1055.5L888.1 1049.5L883.4 1041.2L883.3 1040.9L883.5 1040.5L883.7 1040.4L884.6 1040.3L891.1 1040.3L894 1040.6L896.5 1041L898.9 1041.5L900.9 1042.2L902.9 1043L904.6 1043.9L906.1 1045L907.7 1046.6L911.4 1051.2L912.6 1052L914.1 1052.1L915.4 1051.5L916.2 1050.3L916.3 1048.9L915.7 1047.5L911.8 1042.8L909.8 1040.8L907.5 1039.1L905.2 1037.9L902.9 1036.9L900.3 1036.1L897.6 1035.5L894.6 1035L891.4 1034.8L884.4 1034.7L876.8 1035.1L876.3 1034.8L876.2 1034.4L876.9 1029L877.4 1024.2L877.4 1019.9L877.1 1015.9L876.4 1011.9L874.3 1003.2L868.4 1004.6L870.4 1013.1L871 1016.6L871.2 1019.9L870.8 1023.6L870.1 1027.9L868.4 1035.6L868.1 1036L864.4 1036.4L860.8 1036.5L856.6 1036.3L852 1036L836.4 1034.5L836.1 1033.8L834.4 1025.8L834.5 1013.3L828.2 1012.8L827.5 1016.9L826.4 1025.5L824.6 1032.9L824.3 1033.3L816.2 1033.1L815.8 1033L815.4 1031.9L813.9 1026.8L813.3 1013.2L806.9 1012.9L806.3 1017.5L805.4 1026.6L803.3 1033.9L803.1 1034.1L802.8 1034.3L798.5 1034.7L797.7 1034.7L797.4 1034.2L795.6 1020.7L794.5 1013.9L793.1 1007.7L791.4 1002.2L789.3 996.7L783.7 984.5L780.8 985.7L780.4 985.5L780.3 985.2L780.5 983.9L774.9 982.8L773.2 990.8L771 1002.3L769.1 1014.2L766.7 1033.3L766.6 1034.1L766.4 1034.5L766 1034.6L758.5 1034.4L750.9 1033.9L743.7 1033L740.2 1032.4L736.8 1031.6L730.8 1029.9L727.9 1028.9L718.9 1024.6ZM775.1 1021.6L776.2 1008.9L777 1003.3L779.2 991L779.4 990.7L779.8 990.6L780.2 990.9L783.8 998.9L785.8 1004.1L787.3 1009.2L788.3 1014.9L789.1 1021.5L790.1 1034.4L790 1034.9L789.6 1035L783 1035.1L774.8 1034.9L774.4 1034.7L774.3 1034.5L774.3 1034ZM761.4 1060.4L759.8 1063.2L759.4 1063.2L759.1 1063.1L759 1062.7L759.1 1051.9L759.4 1040.7L759.5 1040.3L760 1040.1L766.8 1040.6L774.5 1041L774.9 1041.2L775 1041.5L774.9 1041.9L773.1 1044.1L771.4 1045.6L769.4 1047.2L768.7 1048.1L768.6 1049.2L769 1050.2L769.9 1050.8L771 1050.9L772 1050.5L775 1047.8L776.9 1045.8L780.3 1041.3L780.7 1041.2L785 1041.3L785.4 1041.5L785.5 1041.9L785.3 1042.3L775.6 1049.8L766.9 1055.3L764 1057.6Z" fill="#d8d7b6" stroke="#6b6c4e" stroke-width="1.05"/>
<path d="M765.5 964.0L767.4 967.1L770.1 971.5L773.3 976.6L776.4 981.9L779.0 986.7L781.2 991.5L783.3 996.8L785.2 1001.8L786.8 1006.2L787.9 1009.4L792.6 1007.6L791.4 1004.5L789.7 1000.1L787.8 995.0L785.6 989.6L783.2 984.6L780.5 979.5L777.3 974.2L774.1 969.1L771.3 964.7L769.3 961.6Z" fill="#d8d7b6"/>
<path d="M777.7 958.0L777.4 961.5L777.0 966.3L776.5 971.9L776.0 977.7L775.3 983.0L774.4 988.4L773.4 994.2L772.3 999.8L771.3 1004.6L770.6 1008.0L775.6 1009.0L776.2 1005.6L777.2 1000.7L778.2 995.1L779.2 989.2L780.0 983.7L780.7 978.2L781.2 972.3L781.6 966.6L782.0 961.8L782.2 958.4Z" fill="#d8d7b6"/>
<path d="M804.9 992.8L805.3 995.8L805.9 999.9L806.5 1004.7L807.1 1009.4L807.4 1013.2L807.3 1016.5L807.0 1019.6L806.7 1022.4L806.3 1024.8L805.9 1026.5L813.4 1027.0L813.3 1025.3L813.3 1022.8L813.2 1019.8L813.1 1016.4L812.8 1012.9L812.3 1008.8L811.7 1004.0L811.0 999.2L810.3 995.0L809.8 992.1Z" fill="#d8d7b6"/>
<path d="M858.9 982.1L860.4 985.3L862.6 989.9L865.1 995.2L867.3 1000.4L869.0 1004.7L870.0 1008.4L870.7 1012.0L871.2 1015.3L871.5 1018.2L871.8 1020.3L876.9 1019.6L876.6 1017.5L876.2 1014.7L875.7 1011.1L874.9 1007.2L873.7 1003.1L871.9 998.5L869.5 993.2L867.0 987.9L864.7 983.3L863.2 980.1Z" fill="#d8d7b6"/>
<path d="M825.5 990.6L826.0 993.9L826.7 998.6L827.6 1004.0L828.3 1009.1L828.7 1013.2L828.6 1016.4L828.3 1019.2L827.8 1021.6L827.4 1023.6L827.0 1025.2L833.9 1026.1L833.9 1024.5L834.1 1022.4L834.3 1019.7L834.3 1016.5L834.0 1012.9L833.5 1008.4L832.7 1003.2L831.8 997.8L831.0 993.1L830.4 989.8Z" fill="#d8d7b6"/>
<ellipse cx="700.3" cy="856.4" rx="17.6" ry="19.4" transform="rotate(28 700.3 856.4)" fill="url(#hatch)" stroke="#8a7a68" stroke-width="0.8"/>
<ellipse cx="751.2" cy="843.4" rx="19.6" ry="17.9" transform="rotate(0 751.2 843.4)" fill="url(#hatch)" stroke="#8a7a68" stroke-width="0.8"/>
<ellipse cx="786.9" cy="861.3" rx="17.6" ry="16.4" transform="rotate(-15 786.9 861.3)" fill="url(#hatch)" stroke="#8a7a68" stroke-width="0.8"/>
<ellipse cx="839.7" cy="855.7" rx="20.4" ry="17.1" transform="rotate(0 839.7 855.7)" fill="url(#hatch)" stroke="#8a7a68" stroke-width="0.8"/>
<ellipse cx="898.9" cy="927.5" rx="17.8" ry="16.2" transform="rotate(-20 898.9 927.5)" fill="url(#hatch)" stroke="#8a7a68" stroke-width="0.8"/>
</g>
<g id="hypha">
<clipPath id="hyclip"><path d="M390.6 1404.4L389.7 1404.5L388.7 1404.4L387.8 1404L387.1 1403.5L386.5 1402.7L386.2 1401.8L385.9 1381.5L386 1377.3L386.4 1373.5L388.5 1359.8L390.1 1347.8L392.2 1338.5L392.8 1336.3L396.3 1326.8L397.1 1323.7L397.2 1322.1L397.6 1320.8L402.2 1312.6L409.9 1301.6L423.8 1284.2L424.5 1282.6L425.2 1281.8L434.4 1273.8L442.6 1266.2L448 1261L455.7 1254.5L458.2 1252.1L460.6 1249.5L462.7 1246.9L463.4 1246.4L464.3 1246.1L473.8 1246.4L476.4 1246.3L480.3 1245.9L482.5 1245.4L486.2 1244L488.7 1240.9L488.8 1240.5L489.4 1236.7L488 1232.8L484.7 1230.2L480.5 1229.5L477.3 1229.7L473.7 1229.6L472.8 1229.4L471.9 1229L471.2 1228.3L470.7 1227.5L470.4 1226.6L470.6 1220.3L470 1216.2L469.8 1215.8L467.1 1212.4L463.1 1210.8L462.6 1210.8L458.4 1211.5L455 1214.1L454.7 1214.5L453.1 1218.7L451.8 1226.9L450.5 1230.6L448.6 1234.3L447.3 1236.3L444.5 1240.5L441.2 1244.8L437 1249.5L434.4 1252L423.6 1261.4L415.4 1268.1L409.7 1273.1L407 1275.9L401.2 1282.3L400.5 1283L399.6 1283.4L398.7 1283.5L397.7 1283.5L396.8 1283.2L396.1 1282.6L395.5 1281.9L395.1 1281L394.6 1274.7L393.9 1269.1L392 1259.1L388.6 1237.5L388.1 1233.2L387.5 1224.7L386 1220L385.8 1219.6L382.4 1216.7L382 1216.5L377.5 1215.5L372.8 1217.1L369.7 1220.6L369.5 1221L368.5 1225.8L368.8 1232L369.3 1237.7L370.1 1243L373.3 1260.1L375.9 1272.2L376.5 1276.3L378.5 1307.8L378.4 1316.7L377.6 1322.1L375 1331.6L373.4 1339.5L372.1 1347.2L370.7 1357.1L368.8 1367.1L368.1 1371.4L367.6 1376L367.3 1381L367.3 1396.4L367.2 1400.6L366.6 1406.5L365.4 1413.4L364.7 1416.1L363.1 1421.2L360 1429.1L355 1439.2L347.9 1451.9L346.6 1456.4L346.6 1456.8L347.6 1460.9L347.8 1461.3L351 1464.5L355.5 1465.8L360.1 1464.6L363.3 1461.5L369.7 1451L376.6 1438.8L387.5 1427.1L388.2 1426.4L392 1424.2L398.6 1421.7L404.9 1418.7L429.3 1405L443.6 1397.8L452.9 1393.5L462.4 1389.8L472 1386.5L481.4 1383.5L496.7 1379.1L501.6 1377.4L505.9 1375.5L509.9 1373.6L513.5 1371.6L527.3 1363.4L534.5 1358.6L541.2 1353.5L544.6 1350.7L547.7 1347.8L551 1344.4L554.2 1340L554.9 1339.4L555.7 1339L556.5 1338.8L557.4 1338.8L561.3 1339.3L565.1 1339.5L569 1339.2L572.2 1338.6L579 1336.9L589.1 1334.5L593 1332.8L595.4 1329.5L595.9 1325.4L594.2 1321.6L590.9 1319.2L586.9 1318.7L583.4 1318.9L575.9 1319.5L568.7 1320.9L565.2 1321L563.1 1320.8L562.2 1320.6L561.5 1320.1L560.8 1319.5L560.4 1318.8L560.1 1318L560 1317.1L560.2 1309.2L560.9 1301.6L561.7 1297L562.3 1295L563 1293.2L565.6 1288.4L568.4 1284.1L570 1282.2L575.5 1277L577.9 1274.4L582.3 1268.7L588.1 1260.5L596.4 1249.1L598.2 1245L598.2 1244.6L597.6 1240.4L595 1237.1L594.6 1236.8L590.9 1235.3L590.5 1235.3L586.3 1235.9L583 1238.5L574.1 1250.1L566.2 1260.9L563 1264.6L556.9 1270.5L554.6 1273.1L550.5 1278.8L548.6 1281.9L546.8 1285.1L545.2 1288.5L544 1292L543 1295.6L541.3 1305L541.1 1308.5L541 1317.2L540.7 1319.7L539.8 1325.2L538.8 1328.9L538 1330.6L536.7 1332.6L534.8 1334.9L532.3 1337.5L526.8 1342.4L521.2 1346.5L514.8 1350.6L504.9 1356.4L498.6 1359.6L495.1 1361L491.2 1362.4L476.5 1366.6L467.1 1369.7L466.2 1369.9L465.3 1369.9L464.4 1369.6L463.6 1369.2L463 1368.5L462.5 1367.7L462.3 1366.9L462.3 1366L463.1 1363.4L465.5 1358.2L467.3 1355.4L470 1351.8L471.9 1347.6L472 1347.1L471.5 1343L471.3 1342.5L468.9 1339.2L468.5 1338.9L464.4 1337.1L459.8 1337.6L455.9 1340.5L452.8 1344.3L449.6 1348.7L447 1353.5L444.7 1358.7L443.6 1361.7L442.2 1367.6L440.2 1378.8L440 1379.7L439.5 1380.4L438.9 1381.1L416.1 1392.2L400.7 1400.2L394.1 1403.3Z"/></clipPath>
<path d="M390.6 1404.4L389.7 1404.5L388.7 1404.4L387.8 1404L387.1 1403.5L386.5 1402.7L386.2 1401.8L385.9 1381.5L386 1377.3L386.4 1373.5L388.5 1359.8L390.1 1347.8L392.2 1338.5L392.8 1336.3L396.3 1326.8L397.1 1323.7L397.2 1322.1L397.6 1320.8L402.2 1312.6L409.9 1301.6L423.8 1284.2L424.5 1282.6L425.2 1281.8L434.4 1273.8L442.6 1266.2L448 1261L455.7 1254.5L458.2 1252.1L460.6 1249.5L462.7 1246.9L463.4 1246.4L464.3 1246.1L473.8 1246.4L476.4 1246.3L480.3 1245.9L482.5 1245.4L486.2 1244L488.7 1240.9L488.8 1240.5L489.4 1236.7L488 1232.8L484.7 1230.2L480.5 1229.5L477.3 1229.7L473.7 1229.6L472.8 1229.4L471.9 1229L471.2 1228.3L470.7 1227.5L470.4 1226.6L470.6 1220.3L470 1216.2L469.8 1215.8L467.1 1212.4L463.1 1210.8L462.6 1210.8L458.4 1211.5L455 1214.1L454.7 1214.5L453.1 1218.7L451.8 1226.9L450.5 1230.6L448.6 1234.3L447.3 1236.3L444.5 1240.5L441.2 1244.8L437 1249.5L434.4 1252L423.6 1261.4L415.4 1268.1L409.7 1273.1L407 1275.9L401.2 1282.3L400.5 1283L399.6 1283.4L398.7 1283.5L397.7 1283.5L396.8 1283.2L396.1 1282.6L395.5 1281.9L395.1 1281L394.6 1274.7L393.9 1269.1L392 1259.1L388.6 1237.5L388.1 1233.2L387.5 1224.7L386 1220L385.8 1219.6L382.4 1216.7L382 1216.5L377.5 1215.5L372.8 1217.1L369.7 1220.6L369.5 1221L368.5 1225.8L368.8 1232L369.3 1237.7L370.1 1243L373.3 1260.1L375.9 1272.2L376.5 1276.3L378.5 1307.8L378.4 1316.7L377.6 1322.1L375 1331.6L373.4 1339.5L372.1 1347.2L370.7 1357.1L368.8 1367.1L368.1 1371.4L367.6 1376L367.3 1381L367.3 1396.4L367.2 1400.6L366.6 1406.5L365.4 1413.4L364.7 1416.1L363.1 1421.2L360 1429.1L355 1439.2L347.9 1451.9L346.6 1456.4L346.6 1456.8L347.6 1460.9L347.8 1461.3L351 1464.5L355.5 1465.8L360.1 1464.6L363.3 1461.5L369.7 1451L376.6 1438.8L387.5 1427.1L388.2 1426.4L392 1424.2L398.6 1421.7L404.9 1418.7L429.3 1405L443.6 1397.8L452.9 1393.5L462.4 1389.8L472 1386.5L481.4 1383.5L496.7 1379.1L501.6 1377.4L505.9 1375.5L509.9 1373.6L513.5 1371.6L527.3 1363.4L534.5 1358.6L541.2 1353.5L544.6 1350.7L547.7 1347.8L551 1344.4L554.2 1340L554.9 1339.4L555.7 1339L556.5 1338.8L557.4 1338.8L561.3 1339.3L565.1 1339.5L569 1339.2L572.2 1338.6L579 1336.9L589.1 1334.5L593 1332.8L595.4 1329.5L595.9 1325.4L594.2 1321.6L590.9 1319.2L586.9 1318.7L583.4 1318.9L575.9 1319.5L568.7 1320.9L565.2 1321L563.1 1320.8L562.2 1320.6L561.5 1320.1L560.8 1319.5L560.4 1318.8L560.1 1318L560 1317.1L560.2 1309.2L560.9 1301.6L561.7 1297L562.3 1295L563 1293.2L565.6 1288.4L568.4 1284.1L570 1282.2L575.5 1277L577.9 1274.4L582.3 1268.7L588.1 1260.5L596.4 1249.1L598.2 1245L598.2 1244.6L597.6 1240.4L595 1237.1L594.6 1236.8L590.9 1235.3L590.5 1235.3L586.3 1235.9L583 1238.5L574.1 1250.1L566.2 1260.9L563 1264.6L556.9 1270.5L554.6 1273.1L550.5 1278.8L548.6 1281.9L546.8 1285.1L545.2 1288.5L544 1292L543 1295.6L541.3 1305L541.1 1308.5L541 1317.2L540.7 1319.7L539.8 1325.2L538.8 1328.9L538 1330.6L536.7 1332.6L534.8 1334.9L532.3 1337.5L526.8 1342.4L521.2 1346.5L514.8 1350.6L504.9 1356.4L498.6 1359.6L495.1 1361L491.2 1362.4L476.5 1366.6L467.1 1369.7L466.2 1369.9L465.3 1369.9L464.4 1369.6L463.6 1369.2L463 1368.5L462.5 1367.7L462.3 1366.9L462.3 1366L463.1 1363.4L465.5 1358.2L467.3 1355.4L470 1351.8L471.9 1347.6L472 1347.1L471.5 1343L471.3 1342.5L468.9 1339.2L468.5 1338.9L464.4 1337.1L459.8 1337.6L455.9 1340.5L452.8 1344.3L449.6 1348.7L447 1353.5L444.7 1358.7L443.6 1361.7L442.2 1367.6L440.2 1378.8L440 1379.7L439.5 1380.4L438.9 1381.1L416.1 1392.2L400.7 1400.2L394.1 1403.3Z" fill="#d8a76b" stroke="#69533f" stroke-width="2.9" stroke-linejoin="round"/>
<path d="M370.7 1263.4L394.6 1259.7M375.8 1315.3L402.0 1323.0M366.5 1356.6L392.7 1360.0M364.6 1392.1L389.1 1390.3M412.2 1272.0L426.8 1287.6M436.4 1247.9L452.0 1262.4M405.7 1395.0L416.2 1414.8M435.0 1377.9L445.5 1397.1M474.7 1363.4L478.3 1387.3M509.1 1350.8L522.5 1369.4M537.5 1305.0L564.4 1307.1M561.4 1262.3L580.8 1275.2" stroke="#69533f" stroke-width="2.5" fill="none" clip-path="url(#hyclip)"/>
<path d="M375.4 1236.9a3.8 3.8 0 1 0 7.6 0a3.8 3.8 0 1 0 -7.6 0ZM462.3 1240.8a3.8 3.8 0 1 0 7.6 0a3.8 3.8 0 1 0 -7.6 0ZM432.2 1260.6a3.8 3.8 0 1 0 7.6 0a3.8 3.8 0 1 0 -7.6 0ZM400.2 1297.1a3.8 3.8 0 1 0 7.6 0a3.8 3.8 0 1 0 -7.6 0ZM381.0 1330.4a3.8 3.8 0 1 0 7.6 0a3.8 3.8 0 1 0 -7.6 0ZM372.4 1380.2a3.8 3.8 0 1 0 7.6 0a3.8 3.8 0 1 0 -7.6 0ZM367.0 1427.5a3.8 3.8 0 1 0 7.6 0a3.8 3.8 0 1 0 -7.6 0ZM427.6 1394.2a3.8 3.8 0 1 0 7.6 0a3.8 3.8 0 1 0 -7.6 0ZM446.5 1360.7a3.8 3.8 0 1 0 7.6 0a3.8 3.8 0 1 0 -7.6 0ZM504.2 1367.5a3.8 3.8 0 1 0 7.6 0a3.8 3.8 0 1 0 -7.6 0ZM559.1 1330.7a3.8 3.8 0 1 0 7.6 0a3.8 3.8 0 1 0 -7.6 0ZM547.9 1293.7a3.8 3.8 0 1 0 7.6 0a3.8 3.8 0 1 0 -7.6 0ZM577.1 1255.7a3.8 3.8 0 1 0 7.6 0a3.8 3.8 0 1 0 -7.6 0Z" fill="#d3781f"/>
<ellipse cx="384.1" cy="1248.1" rx="1.9" ry="3.4" fill="#fff6e8" transform="rotate(10 384.1 1248.1)"/>
<ellipse cx="460.0" cy="1222.9" rx="1.9" ry="3.4" fill="#fff6e8" transform="rotate(10 460.0 1222.9)"/>
<ellipse cx="429.0" cy="1272.1" rx="1.9" ry="3.4" fill="#fff6e8" transform="rotate(60 429.0 1272.1)"/>
<ellipse cx="386.1" cy="1278.6" rx="1.9" ry="3.4" fill="#fff6e8" transform="rotate(5 386.1 1278.6)"/>
<ellipse cx="387.9" cy="1307.2" rx="1.9" ry="3.4" fill="#fff6e8" transform="rotate(5 387.9 1307.2)"/>
<ellipse cx="379.0" cy="1349.3" rx="1.9" ry="3.4" fill="#fff6e8" transform="rotate(10 379.0 1349.3)"/>
<ellipse cx="380.8" cy="1367.1" rx="1.9" ry="3.4" fill="#fff6e8" transform="rotate(10 380.8 1367.1)"/>
<ellipse cx="374.5" cy="1408.2" rx="1.9" ry="3.4" fill="#fff6e8" transform="rotate(15 374.5 1408.2)"/>
<ellipse cx="359.5" cy="1448.5" rx="1.9" ry="3.4" fill="#fff6e8" transform="rotate(25 359.5 1448.5)"/>
<ellipse cx="384.5" cy="1423.5" rx="1.9" ry="3.4" fill="#fff6e8" transform="rotate(60 384.5 1423.5)"/>
<ellipse cx="400.3" cy="1410.7" rx="1.9" ry="3.4" fill="#fff6e8" transform="rotate(62 400.3 1410.7)"/>
<ellipse cx="418.0" cy="1399.3" rx="1.9" ry="3.4" fill="#fff6e8" transform="rotate(62 418.0 1399.3)"/>
<ellipse cx="455.2" cy="1383.3" rx="1.9" ry="3.4" fill="#fff6e8" transform="rotate(65 455.2 1383.3)"/>
<ellipse cx="486.8" cy="1369.6" rx="1.9" ry="3.4" fill="#fff6e8" transform="rotate(65 486.8 1369.6)"/>
<ellipse cx="539.1" cy="1344.9" rx="1.9" ry="3.4" fill="#fff6e8" transform="rotate(62 539.1 1344.9)"/>
<ellipse cx="549.8" cy="1319.0" rx="1.9" ry="3.4" fill="#fff6e8" transform="rotate(8 549.8 1319.0)"/>
<ellipse cx="563.5" cy="1277.5" rx="1.9" ry="3.4" fill="#fff6e8" transform="rotate(15 563.5 1277.5)"/>
<ellipse cx="591.1" cy="1242.9" rx="1.9" ry="3.4" fill="#fff6e8" transform="rotate(60 591.1 1242.9)"/>
</g>
</svg>
</body>
</html>
